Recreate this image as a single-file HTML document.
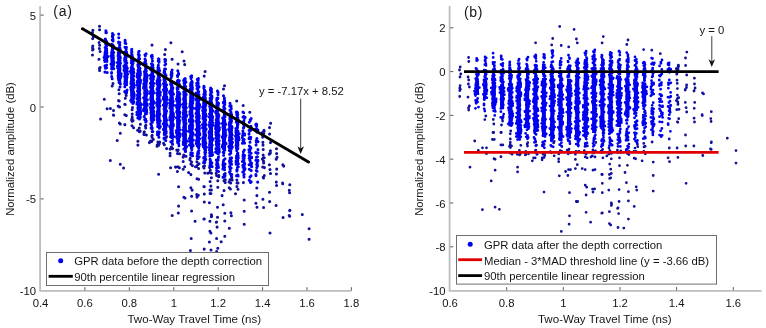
<!DOCTYPE html>
<html><head><meta charset="utf-8"><title>GPR depth correction</title>
<style>html,body{margin:0;padding:0;background:#fff;}body{width:766px;height:328px;overflow:hidden;}svg{display:block;will-change:transform;font-family:"Liberation Sans",sans-serif;}</style>
</head><body>
<svg width="766" height="328" viewBox="0 0 766 328">
<rect width="766" height="328" fill="#fff"/>
<path d="M92.9 30.3h0M92.4 32.6h0M93.4 36.5h0M92.7 38.6h0M92.8 45.9h0M92.6 47.8h0M93.1 49.2h0M92.6 49.9h0M92.5 54.9h0M99.5 26.3h0M99.6 29.7h0M99.1 42.4h0M99.6 45.2h0M99.4 48.5h0M100.1 51.4h0M99 59.3h0M100.1 67.4h0M99.4 68.6h0M99.6 70.4h0M113 83.4h0M112.2 86h0M118.9 89.8h0M119.2 93.8h0M119.2 100.9h0M119.6 107h0M125.9 93.4h0M126.2 95.4h0M125.3 98.2h0M125.2 104.5h0M126.3 115.6h0M132.5 107.6h0M132.1 109.7h0M132.2 114.1h0M132.2 116.9h0M132.2 121.3h0M152 45.1h0M165.4 49.4h0M164.7 54.4h0M172.1 59.3h0M178 63.9h0M184.7 64.6h0M204.2 76.1h0M224.5 85.8h0M223.5 89h0M236.7 101h0M243.2 105.4h0M243.4 182.6h0M249.8 112.3h0M256.8 188h0M256.9 195.6h0M264.4 167.6h0M263.2 155h0M263.2 177.3h0M263.5 161h0M262.4 159.1h0M263.7 162.6h0M264.3 175.4h0M263.6 163h0M262.7 166.9h0M263.8 131h0M263.2 149.5h0M262.7 137.1h0M263.2 157.9h0M263.5 178h0M263 145.1h0M264.1 131.3h0M264 130.3h0M262.6 132.6h0M262.9 142.3h0M263.2 136h0M262.4 132.4h0M262.9 134.1h0M263.7 133.6h0M264.2 157.7h0M263.7 131.9h0M262.9 199.2h0M270.6 123.3h0M269.5 127.6h0M269.6 133.9h0M270.5 142.4h0M270.4 150.8h0M270.4 152.9h0M269.3 154.3h0M269.4 153.8h0M269.4 164.8h0M270 169.6h0M270.5 173.5h0M269.5 192.2h0M269.7 201.6h0M276.5 148.7h0M276.6 153.6h0M277.1 157.2h0M276.2 159.3h0M276.3 159h0M276.7 169.1h0M276.4 173.9h0M276.3 182.1h0M276.6 185.5h0M276.1 205.4h0M282.9 164.8h0M283.7 166.1h0M282.6 182.9h0M282.7 183.7h0M289.8 184.7h0M289.3 190.2h0M289.6 192.8h0M289.9 210.2h0M289.2 215.6h0M302.3 214.4h0M132.1 118.6h0M131.6 120.1h0M133.1 120.5h0M133.6 127.7h0M132 125.7h0M140.4 124.3h0M139.5 131.8h0M137.6 130.2h0M140.2 131h0M139.3 128h0M145.7 128h0M145.9 125.3h0M145.4 126.3h0M146.4 134.9h0M144 132.7h0M152.2 135.3h0M152.1 128.6h0M152.8 131.5h0M152.1 137.2h0M151.8 135.9h0M158.7 134.3h0M157.5 131.9h0M159.3 143.8h0M159.7 141.9h0M157.9 142.1h0M166.6 148.6h0M166.1 137.5h0M166.6 136.6h0M164.4 144.8h0M163.6 143.2h0M172.6 148.5h0M171.3 147h0M171.6 147.4h0M171.3 148.3h0M172.2 148.6h0M177.7 150.7h0M178.2 149.9h0M176.8 149.9h0M177.5 153.4h0M179.6 153.8h0M183.7 155.1h0M185.3 150.9h0M186 156.3h0M183.2 157.1h0M184.3 155.6h0M190.2 158.3h0M192.6 155.7h0M191.1 154.1h0M191.6 162h0M190 160h0M196.5 166.4h0M199.2 156.8h0M196.9 161.8h0M199 163.8h0M197.7 164.7h0M204.5 165.8h0M204 167.7h0M205.7 159.5h0M203.4 166.4h0M204 168h0M211.9 166.5h0M211.5 173.2h0M209.6 167.6h0M210.3 170.3h0M209.5 172.5h0M216.2 173.3h0M217.8 167.7h0M218.8 175.5h0M216.6 175.4h0M218.7 176.8h0M223.5 176.9h0M225.2 173.5h0M225.2 182.4h0M225.3 179.8h0M224.6 179.9h0M231.8 177.6h0M232.2 179.9h0M230 179.8h0M229.1 182h0M230.7 183h0M236.9 179.9h0M237 182.9h0M238 182.9h0M236.9 186.5h0M238 189.3h0M104.3 99.2h0M107.1 108.8h0M110.4 108.5h0M113.5 110.4h0M113.7 115.2h0M118.6 100.6h0M118.2 106.1h0M124.8 104.3h0M124.8 114.7h0M120.2 124h0M124.8 124.6h0M144.3 131.8h0M144.3 134.5h0M150.5 140.9h0M153 139.3h0M157.2 144.9h0M158.7 145.3h0M119.4 123h0M124.9 124.7h0M113.4 115.1h0M120.3 124h0M100.6 119h0M120.3 133.2h0M117.2 140.4h0M137.9 141.2h0M137.9 145.1h0M144 134.5h0M149.4 142.6h0M151.7 141.5h0M153.3 139.4h0M157.1 146.3h0M158.6 145.2h0M158.6 174.3h0M170.1 149.1h0M170.1 153.2h0M170.1 155.7h0M170.6 167.8h0M175.5 167.1h0M177.8 166.8h0M179.4 167.8h0M177.4 171.5h0M178.6 186.7h0M183.2 161.5h0M184.7 166.8h0M183.2 169.2h0M188.6 172.4h0M190.9 174.6h0M183.9 197.2h0M185 197.9h0M190.9 164h0M192.4 165.6h0M195.5 166.7h0M198.6 168.5h0M197 178.7h0M198.6 179.2h0M190.9 187.7h0M192.1 190.1h0M196.7 194.5h0M197 197.1h0M198.3 195.2h0M191.6 196.3h0M203.9 186.4h0M110.3 160.4h0M120.3 164.3h0M123.6 168h0M191.6 210.9h0M178.6 206.1h0M203.9 218.9h0M178.3 212.9h0M195.1 221.3h0M172.2 215.4h0M204.8 172.9h0M207.8 173.2h0M211.4 177.7h0M217.8 180.7h0M224 180.7h0M229.3 187.8h0M230.4 189h0M235.5 193.7h0M244.2 200h0M255.9 203.3h0M257 207.2h0M263.6 207.5h0M283.1 217.5h0M309.1 228.8h0M309.1 239.3h0M210.1 181.4h0M217.8 187.3h0M224 190.6h0M210.9 186.1h0M204.3 186.7h0M209.9 190h0M211.4 190h0M210.9 193.4h0M210.1 193.4h0M222.1 195.6h0M244.2 211.2h0M204.3 194.1h0M223.2 204.8h0M270 233h0M204.3 202h0M209.4 202.8h0M217.5 207.2h0M224.8 213.3h0M230.9 212.8h0M231.4 215.8h0M244.2 224.3h0M211.4 214.7h0M211.7 216.1h0M217.5 217.2h0M224.8 221h0M229.3 228.3h0M216.3 222.2h0M209.9 221.2h0M204.3 219h0M217.1 227.1h0M216.6 222h0M211.4 216.8h0M224.8 236.3h0M209.9 231.2h0M210.9 233h0M216.6 238.5h0M221.2 241.7h0M289.7 210.6h0M289.7 216.3h0M191.2 238.5h0M209.4 242h0M190.4 250.4h0M204.2 249.1h0M211 249.9h0M217.8 248.3h0M216.6 251.5h0M170.9 42.7h0M182.2 51.8h0M184 60.9h0M205.1 71.4h0" stroke="#10109c" stroke-width="3.05" stroke-linecap="round" fill="none"/>
<path d="M106.4 32.6h0M105.9 32.7h0M105.9 30.8h0M106.9 42.4h0M105.3 38.9h0M106.7 42h0M105.6 39.4h0M106 31.7h0M106.2 41.1h0M105.5 50.7h0M106.6 48.8h0M106.8 52.5h0M107 45.6h0M106.8 45.3h0M105.4 48.5h0M106.1 49.3h0M105 53h0M107.2 45h0M105.3 51.7h0M106.2 45.1h0M105.7 44h0M106.6 43.3h0M107.3 44h0M106.8 53.6h0M105.8 51.3h0M106.7 50.7h0M105.1 47.4h0M105.4 59h0M105.8 59.1h0M104.9 61.4h0M106.9 61.1h0M104.4 57.8h0M108 56.6h0M104.8 55.3h0M106.3 56.6h0M104.1 57.3h0M106.1 54.1h0M106.5 55.9h0M104.5 59.9h0M105.7 58.1h0M107.2 72.5h0M105.5 67h0M104.9 72.1h0M105.8 66.2h0M106.6 64.9h0M105.5 68.2h0M106.6 67.7h0M105 65.7h0M105.3 67.5h0M112.2 39.9h0M113.3 34.8h0M112.3 36.5h0M113 39.3h0M113.1 41h0M112.5 35.8h0M112.7 37.1h0M112.9 39.7h0M112.5 33.5h0M111.6 52.3h0M113.1 53.6h0M112.5 49.2h0M113.2 48h0M112.1 49.9h0M112.3 44.7h0M113.1 55.7h0M113.7 52.5h0M112.9 45.1h0M112.4 46.7h0M112.3 46.5h0M113.2 55.5h0M111.7 53.9h0M113.3 48.5h0M111.9 44.6h0M113.4 46h0M112.5 47.2h0M111.7 44.2h0M113.8 62.2h0M111.9 59.3h0M111.1 55.8h0M111.5 57.1h0M112.1 61.7h0M111.8 65.7h0M111 64h0M112.9 61.8h0M112.3 62.7h0M113.8 62.3h0M112.8 57.9h0M113.8 62.9h0M112.3 57.8h0M113.3 57h0M112.1 64.7h0M113.3 64.9h0M112.6 66.6h0M112.2 66.7h0M111.7 76.6h0M111.5 73.3h0M113.8 68.6h0M111.8 67.2h0M112.2 78.7h0M111.6 68.7h0M111.6 72.5h0M112 69h0M118.8 42.4h0M120 48.8h0M119.8 47.8h0M119.9 42.5h0M118.7 43h0M119.8 45h0M118.7 34.1h0M119.6 45.6h0M118.6 41.9h0M118.8 37.7h0M118.8 47.9h0M119.7 53.1h0M119.4 56.4h0M120.1 56.6h0M118.3 58.7h0M120.2 49.4h0M118.9 59h0M119.6 53.4h0M118.3 52.9h0M118.7 51.1h0M118.4 54.7h0M120.3 57.7h0M119.4 53.1h0M119.9 56.4h0M119.2 55.9h0M118.1 56.3h0M120.1 60.1h0M118.5 56.2h0M118.1 55.2h0M118.1 68.2h0M118.2 71.9h0M120.4 62.9h0M119.4 65.9h0M119.5 60.7h0M120.4 78.1h0M117.7 66.5h0M118.4 73.1h0M118.1 65.8h0M119.9 69.2h0M119.8 69.3h0M120.5 76.8h0M121.2 73.8h0M119.4 71.3h0M121.1 75.7h0M120.9 76.5h0M118.9 63.5h0M120.1 76.1h0M118.3 77.8h0M118.9 66.9h0M117.6 67.8h0M119.8 69.1h0M118.1 75.7h0M120.2 74.4h0M117.3 62.5h0M119.9 64.1h0M118.8 79.9h0M119.7 67.3h0M117.4 66h0M119.6 65.8h0M118.6 69.9h0M117.8 67.9h0M118.7 76.7h0M119.5 75.4h0M120 87h0M119.1 82.6h0M119.9 82.5h0M120.4 83.9h0M126.4 47.3h0M125.1 42.9h0M125.1 41h0M126.1 48.6h0M126.2 49.3h0M125.1 40.2h0M125 47.3h0M125.9 43.5h0M125.9 47.8h0M126.5 52.1h0M125.3 55.8h0M124.9 52.1h0M126.1 57.7h0M124.8 54.6h0M126.2 60.7h0M124.9 57.7h0M125.2 54.4h0M126.8 63h0M126.8 53.5h0M126.5 63.5h0M126.9 55.8h0M124.9 61.4h0M125.5 52.6h0M124.6 58.5h0M126.2 63.8h0M125.7 58.4h0M126.3 53.9h0M124.6 60.4h0M125.2 81.4h0M125.1 84.1h0M124.5 68h0M124 70.3h0M125.7 67.6h0M126 76.3h0M123.9 65.9h0M127.4 68.3h0M126.5 67.5h0M126.2 76.5h0M124.8 84h0M125.8 79.5h0M125.4 71.9h0M124.2 67.6h0M126.3 84.6h0M127 68.5h0M126.4 68.5h0M127 77.6h0M127.6 74.2h0M125.6 79.7h0M124.8 66.2h0M125.8 67.1h0M126.7 82.3h0M125.5 77.8h0M127 70.9h0M126.4 79.2h0M126.9 77h0M124.8 76.4h0M125 71.8h0M127.4 71.4h0M126.2 79.9h0M125.7 73.9h0M125.7 66.3h0M125.2 76.6h0M127 90.1h0M124.7 91.4h0M126.5 92.7h0M126.5 91.8h0M124.8 86.8h0M131.9 55.1h0M132 54.2h0M131.6 54.1h0M131.9 51.7h0M131.6 51.8h0M131.7 52h0M131.6 49.8h0M131.8 49.2h0M132.2 60.1h0M132.6 64.2h0M133.1 62.9h0M131.5 60.6h0M132 64.1h0M132.1 67.1h0M132 56.2h0M132.3 67.5h0M132 65.7h0M131.3 62.8h0M131.4 58.1h0M131.9 60.7h0M132.7 63h0M131.8 58.8h0M131.4 56h0M133.3 61.3h0M132.1 58.3h0M132.5 56.5h0M131.6 82.4h0M131.4 81.2h0M131.1 81.6h0M134.1 94.1h0M131.8 99.7h0M133.4 69.1h0M132.5 84.4h0M133.6 91.9h0M132.1 86.1h0M130.5 71.6h0M130.9 73h0M132.6 101.3h0M131.6 68.5h0M133.7 83.3h0M132.5 82.7h0M131.6 76.9h0M133.5 71.5h0M133.2 85.8h0M130.7 87.2h0M131.6 77.1h0M131.7 95.2h0M133.5 102.7h0M132.4 92.4h0M131.7 92h0M133.8 72.5h0M134.2 85.3h0M132.6 94h0M133.1 83.5h0M131.7 76.2h0M133.6 80h0M130.7 100.5h0M131.7 68.5h0M132.1 91.9h0M134.2 95.9h0M133 91.9h0M132.7 73.3h0M131.1 89.4h0M133 69.3h0M132.9 103.4h0M133.8 76h0M131.7 78.8h0M133.5 97.4h0M133.9 101.7h0M131.2 67.4h0M131.2 87.9h0M133.3 98.6h0M134.1 95.7h0M134.2 94h0M130.9 83.6h0M134.1 87.3h0M131.6 89.2h0M130.9 70.6h0M133.2 72.8h0M132.1 79.4h0M131.6 102h0M139.1 51.2h0M138.3 54.4h0M139.6 58.7h0M138.6 52.2h0M138.9 56.6h0M139.3 55.1h0M138.3 67h0M139.6 64.6h0M139.7 69.3h0M139.2 68.1h0M138.6 58.6h0M138.3 66.4h0M139.1 59.3h0M140 68.2h0M138.8 66.9h0M139.3 59.1h0M138.9 69h0M137.9 64.5h0M139.1 62.4h0M138.5 67.7h0M139.1 68.4h0M138.2 64.6h0M138 66.1h0M139.8 63.9h0M140.7 111.3h0M140.5 80.1h0M137.5 91.1h0M140.7 112.7h0M138.3 114.8h0M140.6 81.6h0M140.6 104.1h0M140.8 105h0M140.2 104.7h0M138.6 112.6h0M138.5 112.5h0M139 114.7h0M136.9 98.6h0M138 85.3h0M138.1 70.3h0M137.3 81.2h0M140.3 82.9h0M139.7 80.6h0M136.9 114.8h0M137.4 102.2h0M138.1 78.3h0M140.4 113.5h0M140 75.1h0M138.3 73.8h0M140.4 117.3h0M139.1 75.4h0M139.6 90h0M139.1 110h0M140.5 114.2h0M137.1 76.7h0M138.9 79.4h0M140.3 103.1h0M139.5 104.3h0M139.5 98.3h0M139.5 89.1h0M140.3 109.7h0M139.6 103.8h0M138.2 73.1h0M138.1 90.8h0M138.4 79.1h0M137.9 108.1h0M136.9 112.2h0M139.8 90.2h0M136.9 103.9h0M137.2 74.5h0M137.3 95.3h0M138 88h0M138.4 74.6h0M139.2 90.5h0M137.1 85.1h0M139.6 85.9h0M139 70.4h0M140.3 72h0M139 79.4h0M139.1 74.5h0M140.5 107.8h0M140.4 107.6h0M140.1 71.3h0M140.4 73.4h0M139.7 116.7h0M139.8 98.8h0M140.3 75.1h0M137.8 73.6h0M139.6 83.1h0M138.4 88.1h0M139.9 94h0M140.3 109.8h0M137.1 82.2h0M137.3 73.7h0M137.2 103.6h0M136.9 104h0M137.9 101.3h0M139.5 118.9h0M137.8 117.9h0M138.6 116.3h0M145.4 59.9h0M145.4 54.5h0M145 58.9h0M146.1 53.7h0M145.3 55.8h0M145 54.7h0M146.1 71.2h0M146 64h0M145.2 71.4h0M144.5 71.6h0M146.3 71h0M144.9 63.3h0M144.6 63.4h0M145.9 70.5h0M145.8 70.1h0M144.5 63.2h0M146.1 64.1h0M145.5 61h0M144.9 64.2h0M145.6 64.7h0M144.6 62.2h0M146 71h0M144.8 64.6h0M146.4 68.1h0M145.2 104h0M144.9 97.7h0M145.5 101h0M146.1 73.9h0M145.4 107.5h0M144.6 78.4h0M146.8 81h0M144.6 101.6h0M143.9 83.7h0M147.3 91.3h0M147.2 104h0M147.1 76.4h0M146.7 109.9h0M146.9 78.5h0M146.4 112.4h0M144.8 92.8h0M145.8 108h0M143.8 84.4h0M146.2 73.6h0M144 83.5h0M145.3 84.7h0M145.3 106.5h0M146.7 78.4h0M145.6 99.7h0M145 108.4h0M143.6 87h0M145.9 100.7h0M143.5 109.4h0M145.2 88.9h0M143.6 88.1h0M143.6 104.2h0M144.7 97.8h0M146.8 90.3h0M145.5 80.7h0M145.9 83.4h0M146.1 94.7h0M146 76.6h0M143.7 98.1h0M146.8 112.3h0M146.6 105.1h0M147.1 93.6h0M146.4 79.2h0M143.7 110.7h0M147.3 99.7h0M145.7 78.3h0M144.5 108h0M146.3 81.4h0M147.2 105.5h0M143.6 97.7h0M144.6 105h0M146.3 95.7h0M145.6 112h0M145.5 78.3h0M146.4 95.4h0M145.6 80.2h0M147.4 75.6h0M145.6 73.4h0M144.5 78.9h0M144.4 88h0M144.7 82.5h0M147.3 93.6h0M144.1 80.1h0M146.5 113.8h0M146.3 121.1h0M145.3 114.1h0M145.5 119.5h0M144.7 119.6h0M145.7 121.9h0M145.6 119h0M144.2 116.4h0M152 56h0M152.1 55.3h0M152.3 56.4h0M152.2 58.4h0M151.4 56.6h0M152.5 60.9h0M151.3 56h0M152.6 74.3h0M152.7 73.1h0M153 69.3h0M152.6 73.6h0M152.9 75.3h0M150.9 69.7h0M152 70.7h0M151.5 63.7h0M152.3 73.5h0M152.6 75h0M152.5 66.2h0M152.8 64.8h0M153.1 67.8h0M152.6 64.6h0M152.8 65.4h0M152 73.3h0M151.3 70h0M151.2 67.5h0M150.5 92.4h0M152 104.2h0M151.4 91.2h0M153.8 119.7h0M151.4 119.5h0M150.6 78.4h0M151.4 114.1h0M153.8 83.2h0M152.2 85.7h0M150.5 93.4h0M153.1 93h0M153.4 100.9h0M150.4 75.3h0M152.5 95.4h0M151.1 93.6h0M153.4 113.2h0M150.5 104h0M152.4 109.3h0M152.9 109.3h0M151.5 100.7h0M153.7 114.4h0M151.2 118.1h0M150.8 84.3h0M153.8 107.4h0M151.8 86.2h0M151.6 100h0M151.5 100h0M153.9 103.2h0M153.8 111.2h0M150.6 93.7h0M150.9 84h0M150.9 109.7h0M153.7 101.9h0M150.9 93.9h0M153.9 116.8h0M153.3 79.3h0M151.2 119.1h0M150.7 91h0M153.1 85.9h0M151.2 95h0M153.6 93h0M151.3 120.2h0M151.1 87h0M153.6 112h0M150.4 83.3h0M153.3 91.3h0M153.8 114.9h0M150.2 93.4h0M153.2 78.3h0M150.7 91.7h0M150.4 87.3h0M151.7 116.8h0M150.8 97.6h0M151 98.6h0M153.4 118.9h0M152.2 108.2h0M150.3 107.6h0M153.5 92.8h0M151.2 110.9h0M150.5 92h0M153.8 76.6h0M153.2 84.6h0M151.8 83.5h0M150.7 99.4h0M150.5 87.4h0M151.5 75.3h0M150.9 112.9h0M151.6 94.8h0M150.8 98.1h0M151.3 77.2h0M152.2 131.6h0M151.5 125.4h0M151.1 128.1h0M152 127.5h0M152 121.5h0M150.8 123.8h0M151.2 125.3h0M152.4 122.2h0M158.9 60.3h0M158.3 65.3h0M159.1 62h0M158.5 58.7h0M158.3 61h0M159 62.2h0M158.4 65.3h0M159 59.2h0M158 74.7h0M157.9 71.6h0M157.8 72.5h0M158 67.3h0M158.1 67.5h0M158.1 70.4h0M159.2 78.1h0M159.5 70.4h0M157.4 71.8h0M157.6 71.7h0M159.6 70.6h0M159.7 73.7h0M158.1 71.7h0M157.9 69.1h0M158.7 76h0M158.5 76.9h0M159.5 77.6h0M158.9 67.9h0M157.9 81.8h0M159.1 85h0M156.9 83.6h0M159.2 114.8h0M160.2 120.7h0M159.8 114h0M158.4 92.5h0M158.1 104.8h0M158.5 101h0M156.7 102.6h0M159.6 86.4h0M157.4 120h0M157.5 83.4h0M158.3 121.2h0M158.5 126.2h0M159.6 84.8h0M159.3 84.8h0M159.5 127.6h0M158.2 118h0M157.4 80.9h0M159.7 121h0M157.3 105.8h0M159.8 102.5h0M160.1 84.8h0M159.4 82.9h0M160 80.3h0M158.7 94h0M159.2 81.1h0M157.7 126.6h0M157.1 118.5h0M159.2 80.7h0M159.4 92.2h0M157.1 80.8h0M158.6 94h0M157 89.3h0M158 83.6h0M158.7 81.7h0M158.6 80h0M156.7 92.9h0M158.9 79.8h0M157.3 112.4h0M156.9 105.3h0M159.8 101.9h0M158.4 87.6h0M157.6 121.9h0M156.8 115.6h0M159.6 92.5h0M157.7 120.3h0M157.9 98.1h0M157.9 87.5h0M158.8 119.5h0M158.8 119.8h0M158.8 111.6h0M158.5 88.8h0M157.5 94.6h0M160.2 94.9h0M160.4 126.5h0M157.6 104.5h0M157.7 95.8h0M160 126.2h0M158.6 116.9h0M159.5 102.7h0M159.4 122.4h0M158.9 124.9h0M159 119.6h0M159.8 106h0M159.9 101.1h0M160.4 92.2h0M157.3 113.4h0M157.7 111.3h0M157.1 82.4h0M160.3 100.7h0M158.7 90.2h0M157.2 99.1h0M157.8 111.9h0M159.4 128.2h0M157.4 134.8h0M158.1 131.9h0M158.1 134.1h0M157.4 134.2h0M158.9 137.3h0M159.3 132h0M158.1 135h0M165.3 59.4h0M165.7 64h0M165.6 60.4h0M164.6 68.9h0M165.3 61.5h0M165.1 61.8h0M164.9 65h0M164.8 59.5h0M165.6 69h0M165.4 59.6h0M165.3 81.7h0M165.3 82.7h0M164.9 76.6h0M165.5 78.3h0M164.3 82.4h0M166 75.6h0M164.6 79h0M164.1 77.3h0M164 72.4h0M164.2 80.7h0M164.7 75.4h0M164.1 78.8h0M164.3 70.9h0M164.7 77.7h0M164.6 71.8h0M165.6 74.7h0M164 79h0M164.2 80.5h0M164.8 103.4h0M163.5 83.6h0M165.8 121.6h0M167 124.7h0M164.3 128.2h0M165.7 117.2h0M166.1 95.3h0M165.5 130h0M164.2 122.7h0M164.4 126.1h0M165.3 98.8h0M165 114.4h0M166.1 126.4h0M166.6 110.9h0M164.6 103.4h0M164.3 133h0M166.5 90.7h0M164.4 118h0M165.8 125h0M165.2 106.4h0M165.3 132h0M164.8 88.2h0M166.9 99.7h0M164.7 105.3h0M166.2 123h0M165.8 87.5h0M165.4 131.2h0M166.8 98.3h0M165 86.3h0M165.3 93.3h0M166.6 104.5h0M164.9 86.7h0M163.5 96.9h0M165.7 126.8h0M165.2 101.2h0M163.3 105h0M163.2 98.9h0M166.5 88.9h0M164.3 122.7h0M166.6 84.8h0M164.1 85.9h0M165.4 126.8h0M166.2 106.2h0M165.4 130.4h0M163.4 129.4h0M165.8 110.2h0M165 126.5h0M164.2 114.9h0M165.4 120.7h0M165.2 134h0M166.3 93.6h0M163.6 105.3h0M165.1 132.5h0M163.9 90.9h0M166.8 97.1h0M163.2 123.7h0M164.4 118.6h0M166.1 106.1h0M164.3 97.6h0M166.2 131.6h0M166.1 126.3h0M166.1 133h0M164.3 120.9h0M166.8 120.3h0M166 112.9h0M165 91.9h0M166 110.8h0M164 109.1h0M165 133.7h0M166.5 89.9h0M166.9 102.9h0M166.1 85.2h0M166 118.5h0M165.1 84.9h0M164.3 108.5h0M165.5 87.8h0M167 103h0M164.7 94.8h0M163.6 116h0M163.4 89.7h0M165.8 140.6h0M164.5 134.9h0M164 138.2h0M164.3 134.4h0M164.5 139.3h0M171.9 75.4h0M171.1 75h0M171.3 73.4h0M171.4 72.1h0M171.2 77.6h0M172.1 73.2h0M172.1 70.1h0M171.9 89.5h0M171.5 89.6h0M172.8 88.6h0M171.5 84.5h0M172.1 90.2h0M171.4 84.5h0M172.8 87.8h0M171.6 84.6h0M170.6 84.1h0M172.2 88.7h0M172.1 86.4h0M171.5 88.2h0M171 85.1h0M172 85.5h0M170.9 84.9h0M170.6 81.4h0M171.8 83.8h0M172 83.1h0M171.5 109.4h0M171.8 100.6h0M170.5 100.6h0M172.2 112.1h0M170.6 115.3h0M172.5 119.2h0M170.1 100.1h0M171 133.1h0M171.6 118.3h0M170.9 115.4h0M172.4 98.5h0M173.4 125.2h0M173 116h0M173.6 116.6h0M170.8 98.3h0M171.3 128.4h0M173.2 119.3h0M169.9 100h0M172.1 91.6h0M170.6 136.7h0M171.4 115.4h0M172.9 115.7h0M172 134.6h0M173.3 114.9h0M170.9 112h0M172.3 114.6h0M172.6 102.7h0M169.9 108h0M173.2 126h0M173.6 136.7h0M173.5 94h0M173.2 136h0M172.3 91.3h0M173.2 101.2h0M169.9 103.1h0M172.4 120h0M171.3 116.7h0M172.5 94.4h0M172 91.1h0M171.5 95.2h0M170.6 118.7h0M170.7 127.3h0M171.2 133.1h0M171.4 124.4h0M170 105.4h0M169.9 119.7h0M171.3 113.5h0M170.6 104.4h0M173.2 115.5h0M170.9 129.4h0M172.2 120.3h0M172.1 126.6h0M170.2 92.8h0M170.7 129h0M169.9 117.6h0M170.8 118.8h0M169.7 91.4h0M171.7 102.4h0M169.8 126.6h0M171 115.2h0M172.4 121h0M170.6 94.1h0M172.3 133.9h0M171.8 98.9h0M170.3 107.7h0M171.8 110.7h0M173.2 123.9h0M173.6 105.2h0M172.2 109.1h0M171.4 110h0M172.6 125.1h0M169.7 92.7h0M170.9 107.3h0M173.4 113.6h0M170.6 104.8h0M171 111.4h0M171.7 110.9h0M172.3 141h0M172.3 143.6h0M170.8 141.8h0M172.6 144.3h0M177.6 76.4h0M178.5 73.3h0M177.9 70.9h0M178.7 74.2h0M177.8 70.7h0M177.4 75.6h0M178.8 83h0M178.8 84.8h0M178.7 82.2h0M178.5 81.1h0M177.2 87.7h0M177.8 82.1h0M177.2 88.8h0M179.4 84.6h0M179.3 80.7h0M178.3 79.9h0M178.6 84.6h0M178.1 82.3h0M177.4 88.7h0M177.2 89h0M177.5 80.7h0M177.8 85.1h0M177.2 83.9h0M177 81.9h0M178.8 97.2h0M178 118.4h0M179.2 92.7h0M179 96.1h0M179.7 111.9h0M177.6 95.3h0M179.9 93.9h0M177.6 121h0M179.8 99.7h0M176.7 107.6h0M177.7 113.8h0M176.4 130.5h0M179.8 129.8h0M178.9 94.2h0M179.2 127.5h0M178.1 133.9h0M178.5 123.2h0M176.7 111.9h0M178.3 117.9h0M179.1 108.5h0M178.2 134.9h0M178.2 109.6h0M177.4 127h0M178.8 132.2h0M178.6 126h0M178.8 94.5h0M178.9 134.3h0M176.8 131.8h0M179.1 113.9h0M176.5 136.9h0M177.2 100.4h0M178.8 103.8h0M179.9 112.2h0M179 124.8h0M179.6 136.7h0M177.9 92h0M179.1 123.7h0M177 135.1h0M179.8 116.4h0M176.4 99h0M176.9 111.1h0M177.8 92.2h0M178.8 122.7h0M177.3 132.9h0M179.8 105.5h0M178.6 93.8h0M179.2 98.2h0M179.5 97.4h0M179.9 106.3h0M179.3 122.8h0M178.9 101.3h0M177.8 123.2h0M178.3 118.5h0M180.2 133.8h0M178.2 131.6h0M178.7 96.1h0M177.1 138.5h0M177 96.8h0M178.2 95.3h0M179.7 101.7h0M179.7 136h0M178 117.2h0M177.8 123.7h0M176.4 117.8h0M178.4 118.3h0M176.9 100.8h0M179.8 113.5h0M179 140.7h0M177.5 106.7h0M177.3 136.3h0M179.1 121.1h0M179.9 105.8h0M180.2 104.4h0M178.3 126h0M179.8 120.4h0M176.4 132.4h0M176.2 105.5h0M178.7 143.7h0M178.4 143.3h0M177.5 141.2h0M177.6 142.4h0M178.9 145.7h0M184.5 79.7h0M185.1 80h0M185.2 78.4h0M184.3 79.3h0M184.4 91h0M185.9 82.1h0M185.1 92.5h0M183.6 80.5h0M185.2 90.1h0M185.8 91.2h0M185.5 88.5h0M184.5 84.8h0M184.3 87.6h0M185.7 88.9h0M185.7 86.5h0M184.2 89.3h0M184.3 81.2h0M184.9 87.8h0M185.2 82.8h0M184.5 84.2h0M185.2 82.3h0M184.1 83.2h0M184.1 140.9h0M183 135.4h0M185.3 120.2h0M184.6 130.7h0M184.9 101.9h0M183.9 140.1h0M185.4 115h0M185.3 111.9h0M183.4 114.4h0M183 117.4h0M184.5 96.6h0M186 111.7h0M184.1 95h0M185 125.4h0M185.1 126.4h0M183.6 144.4h0M183.1 119h0M184.9 134.2h0M183.2 144.2h0M183.8 121.2h0M186.5 116.3h0M183.3 104.1h0M183.8 113.9h0M185.6 134.9h0M186.1 107.6h0M183 104.2h0M185.1 101.9h0M185.6 135.1h0M184.3 100.9h0M185.3 137.4h0M183.4 133.4h0M183.4 135.4h0M184.7 94h0M185.3 128h0M183.5 118.2h0M184.6 123.3h0M183.8 91.9h0M185.7 113.9h0M186.7 146.6h0M184.2 123h0M186 139.9h0M183.8 144.2h0M185.1 147.1h0M183.7 126.9h0M183.3 141.9h0M186.5 131.1h0M183.6 135.5h0M186.1 146.7h0M186 147.4h0M183.6 143.5h0M183.7 103.4h0M183.5 117.6h0M186.1 142.5h0M183.8 110.5h0M183.6 99.1h0M184 106.9h0M183 129.7h0M186 123.6h0M185.3 105.9h0M186.3 107.7h0M184.2 119.4h0M184.8 142.8h0M183.5 112.6h0M184 97.9h0M186.2 94.6h0M186.1 142.2h0M184.2 118.4h0M183.3 107.2h0M184 107.7h0M183.5 119.1h0M184.7 121h0M185.1 100.3h0M185.8 142.4h0M183.7 121.4h0M183.7 130.9h0M183.9 138.2h0M185.9 103.6h0M183.9 103.4h0M184.3 130.1h0M186.4 114.9h0M186.7 140.9h0M184.3 122.6h0M184.4 124.4h0M183.8 144.5h0M185.5 151.5h0M185.5 148.8h0M185.5 150.9h0M183.9 149h0M191.9 81.3h0M191.5 77.3h0M191.7 75.7h0M191.1 78.6h0M190.7 76.5h0M191.1 83.9h0M190.5 85.7h0M190.2 88.7h0M190.8 83h0M192 83.7h0M191.2 92.3h0M192.1 85.6h0M191.7 90.3h0M190.3 91.4h0M190.8 87.8h0M190.3 91.9h0M192.3 92.2h0M192.2 82.4h0M192.2 87.7h0M192.4 87.4h0M190.6 84.5h0M192.4 89.3h0M191.7 84.4h0M190.8 107.3h0M192.4 127.6h0M193 121.4h0M189.4 128.1h0M189.4 125.9h0M191.4 106.4h0M192 116h0M192.5 116.3h0M191.7 123.8h0M191.3 127h0M189.3 121.3h0M190.6 100.7h0M190.1 104.8h0M191.1 131.1h0M191.9 102.2h0M190.5 102.2h0M192 104.5h0M189.4 119.7h0M190 131.3h0M189.7 106.5h0M191.5 126.1h0M193.3 108h0M189.8 114.2h0M191.4 137.3h0M191.7 119h0M191 119h0M192.5 96.1h0M192.2 123.9h0M191.2 96.1h0M191.4 112h0M190.3 130.8h0M192.1 134.1h0M192.7 97.7h0M190.4 127h0M189.5 141.3h0M192.7 125.6h0M193 134.1h0M193 120.8h0M192.6 96.3h0M191.9 103.9h0M191.3 147.9h0M192 140.2h0M189.3 138.6h0M191.9 120.2h0M193.1 134.1h0M191.4 103h0M190.9 127.1h0M191.3 143.8h0M191.9 97.4h0M192.1 134.7h0M191.2 120h0M192.1 140.7h0M192.6 132.7h0M192.1 99.1h0M192.2 140.9h0M190.9 145h0M192.4 135.4h0M191.4 134.3h0M193 120.6h0M190.6 104.6h0M192.7 103.1h0M190.7 138.9h0M192.5 115.8h0M191 128.2h0M191.4 145.7h0M190.8 97.8h0M189.9 111.7h0M191.5 127.7h0M192.9 132.9h0M190.4 104.2h0M192.3 128.8h0M189.5 130.1h0M190.3 136h0M193.2 98.1h0M193.1 100.3h0M190.1 104h0M192.2 144.1h0M189.5 144.9h0M191 130.6h0M191 108.1h0M191.2 137.3h0M193.1 145.6h0M189.8 125.5h0M191.5 100.3h0M193.3 140h0M189.3 131.5h0M191.5 155.3h0M191.8 149.6h0M190.7 155.1h0M191.6 152.9h0M190.9 152.7h0M192.4 153.1h0M197.3 79.5h0M198.2 80.1h0M198.4 78.6h0M197.4 79.3h0M196.9 83.3h0M198.6 91.7h0M199 86.8h0M196.7 83.2h0M198.5 91.4h0M197.4 83.2h0M198 82.3h0M198.2 87.7h0M198.7 91.7h0M197.7 85.2h0M198.1 83.2h0M198.3 86.1h0M197.5 84.7h0M197 88.4h0M198 84.2h0M197 88.6h0M197.7 86.1h0M196.8 85.5h0M198.7 131.8h0M198 106.9h0M198.8 139.8h0M197.1 93.1h0M199.3 106.3h0M198.9 132.7h0M198.8 94.4h0M196.6 100.2h0M198.3 119.2h0M199.3 108.1h0M199.7 134.9h0M197.7 101h0M197.4 113.3h0M199.5 99.6h0M196.1 98.9h0M199 94.7h0M197.2 141.1h0M197 103.2h0M198.3 117.4h0M198.8 108.5h0M199.6 135.1h0M198.8 146.1h0M199 146.2h0M196 113.5h0M199.6 106.1h0M199.1 130.7h0M199 96.9h0M197 108.2h0M199.2 118.2h0M199.8 133.7h0M197.6 93.2h0M197.7 127.5h0M199.4 115.7h0M196.5 120.6h0M197.4 114.4h0M196.3 108h0M198.7 140.3h0M198.6 147.8h0M199.5 121.9h0M199.4 128.3h0M197.8 142.6h0M197.2 104.5h0M197.5 142.1h0M196.7 114.4h0M195.9 134.9h0M196.5 140.6h0M197 104.5h0M198.2 117.1h0M197.8 134.8h0M196 129.6h0M198.2 127.6h0M199.7 98.3h0M197.8 126.3h0M197.9 104.8h0M198.6 140.9h0M197.1 97.4h0M196.3 143.5h0M199.3 128.9h0M198.4 131.4h0M197 94.6h0M196.9 105.7h0M197.1 129.6h0M196.1 92.9h0M197.6 115.9h0M197.1 123.7h0M199.6 138.7h0M199.6 144.2h0M197.7 114h0M196.5 141.1h0M199.1 144h0M195.9 109h0M196.6 121.8h0M197.4 103.2h0M198.8 116.3h0M199.1 132.6h0M197.5 136.2h0M197.4 112.2h0M197.8 122.3h0M199.5 125.8h0M198.1 113.1h0M198.1 103.9h0M198.6 126h0M196.4 117.3h0M197 112.1h0M199.6 104.5h0M199.6 133.3h0M197.3 158.8h0M197.8 152.2h0M197.7 153.2h0M198.9 150.4h0M198.1 158.4h0M198.1 153.1h0M197.6 154.6h0M197.2 156.4h0M198.7 153.3h0M197.1 156.2h0M197.9 152.5h0M198.5 151h0M204.2 87h0M203.9 86.2h0M204.6 90.3h0M205.2 94.8h0M205 97.7h0M203.8 94.4h0M205.3 93.7h0M205 97.5h0M205.2 98.8h0M205.4 91.5h0M204.6 99.5h0M205.2 95.2h0M205.4 98h0M205.3 94h0M204.3 93.1h0M204.6 93.9h0M203.8 87.9h0M203.3 97.3h0M205.4 99h0M205.3 94h0M203.9 144.3h0M203.2 137.5h0M203.1 118.6h0M206.3 116.1h0M203.7 131h0M205.8 105.3h0M206.4 147.2h0M205.6 102.9h0M203.2 114.1h0M203.6 123.7h0M203 145.1h0M203.1 117h0M204.4 135.3h0M206 124.8h0M204.5 129.1h0M204.8 142.7h0M205 144.8h0M204.5 135.8h0M204.8 105.6h0M205.4 143.9h0M203.4 146.7h0M203.1 141.7h0M202.6 99.3h0M203.3 109.3h0M204.5 138.7h0M203.9 142.8h0M203.6 106.6h0M205.5 109.9h0M204.6 146.4h0M204.7 127.3h0M205.7 135.2h0M204.2 140.6h0M204.3 124.6h0M202.7 106.8h0M204.2 140.4h0M202.6 107.2h0M204.1 100.7h0M206.1 129.1h0M204 137.2h0M202.5 127.7h0M204.2 107.6h0M205.1 129.5h0M203.9 145.1h0M203 118.4h0M203.2 112.9h0M204.9 140.9h0M202.7 137.8h0M205 123.8h0M204.5 110.8h0M205 102.1h0M205 129.9h0M204.6 101.8h0M203.3 117.1h0M204.5 148.8h0M204.4 134.8h0M203.1 143.2h0M205.2 124.3h0M203 107.4h0M204.6 124.1h0M205 143.4h0M203.7 111h0M203.1 140.3h0M203.7 114.8h0M205.3 130.1h0M204.2 107.2h0M205 142.8h0M205.8 143.3h0M203.5 125.3h0M204.5 115.5h0M203.5 144.1h0M203.4 138.2h0M202.6 110.5h0M205.6 120h0M204.9 120.7h0M203.7 103.6h0M202.5 124.5h0M205.7 114.3h0M205.1 151.3h0M203.7 158.1h0M204.8 152.2h0M204 157.2h0M204.5 161h0M204 162.4h0M205.2 156.2h0M205.1 154.2h0M204.8 160.8h0M205.3 158.5h0M205.6 152.6h0M204 161.5h0M205.7 150.2h0M204.8 162.4h0M203.6 162.8h0M210.4 90.1h0M211.5 89.1h0M210.8 91.3h0M211.3 90.7h0M210.8 92.7h0M210.7 88h0M210.5 89.4h0M211.7 92.3h0M209.9 101.3h0M212 97.4h0M210.7 106.4h0M210.4 100.1h0M211.9 103.7h0M211.5 102.3h0M211.8 95.8h0M209.9 101h0M211.5 99.4h0M211.7 98h0M211.3 102.5h0M211.9 106.2h0M210.1 98.3h0M211.6 103.6h0M210.8 98.2h0M210.2 104.7h0M212 96.9h0M210.3 94.8h0M210.8 107.8h0M209.9 139.6h0M211 113h0M211.2 117.3h0M210 126.9h0M210 145.6h0M209.1 132.7h0M209.7 148h0M212.9 139.8h0M211.7 118h0M212.7 111.3h0M211.8 139.2h0M210.5 108.6h0M210 134.9h0M211.2 143.3h0M212.4 117.9h0M210 137.3h0M211.6 124.1h0M210.7 137.5h0M209.2 137.9h0M209.4 116.9h0M211.9 140.4h0M211.5 141.1h0M211 123.1h0M209.5 126.5h0M209.5 145h0M211.9 121h0M209.4 147.4h0M209.9 143.2h0M209.4 149.9h0M210.1 154h0M212.3 119.9h0M209.6 122.2h0M212.7 122.5h0M210.9 133.4h0M209.4 133h0M211.8 134.6h0M209.7 106.2h0M210.9 151.5h0M211.4 119.8h0M209.2 124.8h0M210.4 152.4h0M210.4 128.9h0M210.4 145.4h0M210.8 122.9h0M212.6 154.7h0M212.7 110.5h0M209.5 134.8h0M211.7 123.1h0M212.1 152.5h0M210.9 123.3h0M211.3 144.2h0M209.2 131.6h0M209.5 114.1h0M211.7 118.1h0M210.9 133.2h0M209.6 132.8h0M211.4 115.2h0M209.7 152.9h0M209.8 131.8h0M212.9 110.9h0M212.2 145.1h0M209.2 137.3h0M212.9 125.2h0M211.8 130.4h0M211.8 153.5h0M212.6 116.6h0M209.9 141.8h0M210.3 108.5h0M210 126.8h0M210.8 125.1h0M212.5 118.1h0M212.8 138.8h0M209.7 135.9h0M210.4 155.6h0M211.9 162.9h0M212 166.6h0M211 165.2h0M210.1 159.3h0M211.7 155.5h0M210.4 162.8h0M209.8 155.9h0M210.3 160.7h0M209.9 165.8h0M210.9 161.4h0M210.2 163.5h0M210.3 162.5h0M210.3 159.9h0M217.5 98.5h0M217.5 90.9h0M216.9 98.3h0M217.8 98.8h0M217.9 98h0M217.4 91h0M217.8 98.7h0M217.7 97.9h0M218 94.6h0M218.1 92.4h0M217.5 109.8h0M218 107.4h0M216.7 99.9h0M217 109.2h0M218.2 105.3h0M216.5 107.5h0M216.9 104.4h0M217.3 105.2h0M218.2 104.8h0M217.8 105.9h0M217.1 102.3h0M217.8 105.7h0M218.2 105.5h0M216.9 104h0M217.5 103.6h0M218.1 110.4h0M218.6 103.3h0M217.9 110.7h0M219 135.2h0M218 141.5h0M217.6 113.8h0M217.2 148.5h0M217 152.6h0M218.7 131.1h0M216.3 130.1h0M215.9 138h0M218 116.8h0M216 134.3h0M215.6 128.7h0M218.9 150h0M216.9 115.1h0M218.1 123h0M217.8 134.3h0M217.8 149.6h0M218.4 137.4h0M218.5 122.6h0M218 152.6h0M216.8 151.2h0M217.8 125.8h0M217.6 114.4h0M217.9 116.6h0M215.6 152h0M215.6 125.4h0M216.9 126.5h0M216.1 111.2h0M217.5 138.9h0M216.9 141.5h0M218.1 143.3h0M216.7 145.1h0M215.8 132.2h0M217.5 125.8h0M219.2 149h0M216.6 143.5h0M218.5 130h0M219.3 151.9h0M216.9 127.7h0M217.5 144.4h0M217.3 148.3h0M217.1 118.1h0M218.4 136.3h0M219.4 129.4h0M217.1 117.9h0M216.2 119.9h0M219.2 150.4h0M217.8 153.6h0M215.7 112.6h0M219.3 123.4h0M219.3 127.4h0M215.7 127.3h0M218.4 146.6h0M217.7 137.4h0M216.2 141.6h0M217.1 126.6h0M218 117.5h0M216.1 135.1h0M215.9 148.7h0M216.3 127.6h0M216.3 144.4h0M218.8 115.5h0M218.5 128.4h0M219 143.9h0M218.7 127.7h0M218.8 135.3h0M216 123h0M219.2 140.7h0M217.8 125.4h0M216.5 164.6h0M218.2 166.3h0M216.3 159.9h0M217.3 161.1h0M216.7 165.1h0M218.5 156.9h0M217.3 164.7h0M216.5 168h0M218.4 167.5h0M217.3 162h0M216.7 170.5h0M217.5 166.2h0M217.9 164.1h0M217.9 165.5h0M218.2 160.1h0M216.9 162.6h0M218.2 158.6h0M218.5 171.5h0M224.8 104.5h0M224.1 106h0M223.4 103h0M223.5 95.7h0M224.8 102.7h0M224.7 101.1h0M224.4 98h0M223.5 102.1h0M224.4 99.2h0M224.4 101.5h0M224.6 101.3h0M224.3 113.3h0M224.9 116.5h0M225.2 114.5h0M224.9 114.3h0M224.8 112.9h0M223.9 110.4h0M225 114.8h0M225 116.8h0M225.1 114.4h0M223.3 117.4h0M223.7 109.3h0M224.8 112.3h0M224.4 116.8h0M223.8 106.8h0M224.9 114.9h0M224.9 108.5h0M224.8 116.1h0M225.2 114.6h0M223.8 142.1h0M224.2 150.5h0M224.3 150.2h0M224.9 144.1h0M222.6 117.9h0M222.3 146.2h0M224.3 132.5h0M223 145.7h0M225.5 129.9h0M225 132.8h0M224.9 123.2h0M225.9 135.2h0M223.6 131.7h0M222.9 127.5h0M222.7 138h0M224.1 128.5h0M222.9 145.5h0M225.8 124.2h0M223.6 141.3h0M223.3 120.2h0M222.4 123.2h0M223.6 128.5h0M226 143.2h0M223 126.1h0M222.8 124.3h0M224.3 141.9h0M223.8 123.4h0M224 130.9h0M225.4 143.7h0M224.1 145h0M226 143.8h0M224.2 149.3h0M222.7 145.1h0M224 134.2h0M224.4 133.3h0M223.4 148.5h0M225.4 132.2h0M224.3 135.1h0M222.1 146.7h0M225.3 133.3h0M223.4 134.8h0M224.8 121.9h0M222.6 137.3h0M224.2 118.1h0M225.2 137h0M222.2 136.7h0M223.4 140.7h0M224.7 141.7h0M223.2 144h0M223.8 132.2h0M223.4 132.9h0M223.4 152.3h0M223.4 161.8h0M223.7 166h0M223.3 167.8h0M224.3 166.6h0M224.7 176.6h0M224.1 174.6h0M222.9 165.1h0M223.9 164.2h0M223.9 152.7h0M224 164h0M223 177.2h0M223.6 164.9h0M223.9 159.9h0M225 175.7h0M223.6 155.2h0M224.6 167.4h0M223.5 166.8h0M224 169.2h0M225.1 164.1h0M225 158.8h0M224.5 169.7h0M223.6 160.2h0M224.2 169.6h0M223.2 152.3h0M222.9 169h0M223.1 163.5h0M223.6 169.1h0M223.7 167.4h0M231 112.3h0M230 103.2h0M231.2 108.1h0M229.8 106.1h0M230.1 110.3h0M231.1 105.8h0M231.2 109h0M229.9 110.3h0M231.1 109.3h0M231.3 119.4h0M230.7 120.6h0M231.1 122.8h0M230.8 115.4h0M231 123h0M229.7 122.1h0M230.3 114.8h0M229.9 118.9h0M231.1 113.7h0M229.9 117.4h0M229.5 123.1h0M231.6 120.9h0M230.6 121h0M231 115.4h0M231.7 114.8h0M230.4 118.4h0M231.7 118.3h0M231.2 114h0M229.7 127.2h0M231.3 130.8h0M229.8 139.8h0M231.9 138.3h0M230.3 125.3h0M231.7 133.8h0M231.9 146.9h0M232.2 135h0M230.8 143.7h0M228.9 146.5h0M231.6 133.4h0M232.5 142.2h0M231.2 146.9h0M230.3 134.9h0M229.7 147.8h0M228.7 129.4h0M232 127.1h0M230.1 131.7h0M229.6 147.9h0M230 146.4h0M232.4 147h0M232.2 138.7h0M229.7 131.8h0M231.6 144.4h0M230.5 148.1h0M228.8 146.6h0M229.5 148h0M232.3 142.7h0M230.9 146.7h0M230.3 143.6h0M229.3 140.2h0M231.8 128.4h0M231.9 138.8h0M229.3 125h0M230.7 142.9h0M231.4 128.2h0M229.6 137.5h0M231.2 130.8h0M230 149.2h0M231.2 130.2h0M231.1 168h0M231.4 161.3h0M231.5 157.7h0M231.8 174.5h0M229.9 163.2h0M229.5 166.6h0M230.1 168.9h0M229.5 171.9h0M230.5 174.1h0M230.8 158.2h0M231.5 176.2h0M230.6 161.2h0M230.8 153.1h0M229.6 154.2h0M229.5 161.4h0M230.7 159.3h0M230.2 171h0M230.1 167.2h0M230.2 158.1h0M229.6 160.4h0M231.6 164.3h0M230.9 160.8h0M230.8 164.2h0M229.4 150.4h0M231.6 158h0M230.8 150.8h0M236.4 112.1h0M237.5 112.7h0M237.1 111.9h0M237.4 116h0M237.8 114.4h0M236.7 114.6h0M238 120.1h0M236.8 119.7h0M237.4 126.2h0M236.5 121.4h0M237 117.6h0M237.8 125.1h0M236.9 118.3h0M238.1 119.6h0M237.2 122.1h0M237.4 126.2h0M237.8 117.7h0M237.4 118h0M238 124.1h0M237.5 127.5h0M236.3 122.1h0M238 121.2h0M237.8 122.1h0M236.5 121.6h0M238.8 138.8h0M237.5 145.3h0M239.2 133.8h0M236.6 135.7h0M236.2 133.4h0M236.7 129.4h0M238.7 137.1h0M237.3 142h0M236 145.5h0M239.1 139.6h0M235.9 128.6h0M235.9 130.9h0M237.7 138.1h0M236.7 146.4h0M236 145.4h0M237.8 131h0M237.7 144.3h0M237.2 135h0M236.5 145h0M237.7 145.8h0M235.9 132.6h0M237.7 140.2h0M236.2 138.8h0M238 137h0M235.5 136.1h0M236 140.2h0M236.6 144.8h0M238.2 139.2h0M236.3 164.2h0M238.4 163.8h0M236.1 161h0M237.5 174.9h0M238.3 157.7h0M237.7 153.9h0M236.5 155.9h0M237.4 153.8h0M236.8 170.1h0M237.3 175.8h0M237.5 162h0M237.8 164.3h0M238.1 176h0M237.9 148.5h0M237.8 153.1h0M236.4 148.1h0M236.4 157.9h0M237.4 167.4h0M238.3 166.8h0M237.3 149.1h0M236.7 150.6h0M237.8 160.1h0M237.2 169.7h0M236.9 170.9h0M237.1 157.1h0M237.8 174.9h0M236.9 161.8h0M236.7 159.9h0M236 162.4h0M236.5 175.7h0M238.1 155.4h0M243 142.9h0M242.9 122.5h0M243.4 123.6h0M245 168.6h0M243.2 154.2h0M243 133.2h0M244.6 134.9h0M244.5 133.7h0M242.4 143.2h0M243.6 139.6h0M243 156.3h0M242.9 130.9h0M242.4 161.4h0M243.9 164.9h0M243.4 155.3h0M244.2 158h0M244.6 155.6h0M243.8 175.3h0M243 111.9h0M243.8 121.7h0M244.2 124.7h0M244.3 163.3h0M243.8 127.6h0M244.2 174.3h0M242.4 137.7h0M244.2 165.9h0M244.6 143.1h0M242.8 172h0M244.1 139.4h0M243.7 112.7h0M243.1 167.3h0M244.3 150.1h0M244.7 164h0M244.4 155.3h0M243 116.9h0M244 169.5h0M243.4 128h0M243.4 140.3h0M243.8 116.5h0M242.5 135.8h0M242.8 165.2h0M245.1 117.2h0M243 165.2h0M244.8 169.6h0M244.5 124.8h0M244.6 118.3h0M243 135.3h0M243.5 172.1h0M243.4 151.8h0M244.7 169.1h0M243.9 170.7h0M243.6 166h0M244 177h0M243.9 120.8h0M243.1 158.5h0M244.3 162.5h0M244 159.8h0M244 142.6h0M243.9 142h0M243 140.6h0M243.9 134h0M243.9 125.7h0M249 133.7h0M250.2 119.7h0M250.7 157.2h0M250 177.1h0M249.2 155.4h0M249 134.1h0M251 175.7h0M251.4 164.4h0M251.6 166.8h0M249.3 169.2h0M250 142.2h0M251.1 153.3h0M250.1 160.6h0M251.5 162.9h0M249.3 122.2h0M249.4 137.6h0M251.2 170.6h0M249.1 130.2h0M249.4 146.1h0M251.6 157.8h0M250.5 148.1h0M249.2 158.2h0M249.3 180.3h0M250.5 139h0M248.9 149.7h0M250.8 137.2h0M249 138.6h0M249.1 164.7h0M249.4 130.6h0M250.5 182.4h0M250.9 148.2h0M251.5 157.1h0M249.7 131.1h0M249.6 150.9h0M249.9 160.4h0M250.3 120.6h0M251 126.2h0M250.9 164.9h0M250.2 130.4h0M250.9 130h0M251.2 118.4h0M251.2 181.7h0M250.6 163h0M250.5 147.3h0M249.9 150.4h0M249.2 152.3h0M258 141.6h0M257.9 160.2h0M257.5 166h0M257.1 153.2h0M255.8 124.6h0M256.7 124.2h0M256 125.2h0M257.9 130.1h0M256.2 140.5h0M257.1 171.3h0M256.3 142.1h0M256 175.6h0M256.6 125.9h0M257.3 164.6h0M256.7 128.7h0M257.4 156.7h0M256.7 164.4h0M256.8 167.6h0M256 129.8h0M257.3 131h0M256.2 124h0M257.7 182.1h0M255.8 152.4h0M256.1 145h0M256.9 138.5h0M255.9 174.5h0M255.9 160.2h0M256.9 132.1h0M256.3 170.4h0M257.9 160.7h0M256.5 157.2h0M257.5 141.6h0M257.2 163.2h0M257.2 162.4h0M258 153.1h0M255.7 129h0M257.9 153h0M257.9 149.6h0" stroke="#0000f0" stroke-width="3.05" stroke-linecap="round" fill="none"/>
<path d="M460.2 67h0M459.5 70h0M460.8 74h0M460 77h0M460.1 85.6h0M459.8 88h0M460.4 89.3h0M459.8 90.5h0M459.7 96.5h0M468.6 57.5h0M468.8 61.5h0M468.1 77h0M468.7 80h0M468.4 84h0M469.4 87h0M468 97.2h0M469.4 106h0M468.5 108h0M468.7 110h0M485.8 116h0M484.8 119.6h0M493.3 119.5h0M493.8 124h0M493.7 132.5h0M494.3 139.4h0M502.3 118.8h0M502.6 121h0M501.5 125h0M501.3 132.5h0M502.8 144.9h0M510.7 131h0M510.2 133.8h0M510.3 139h0M510.3 142.3h0M510.4 147.5h0M535.6 42.8h0M552.7 38.5h0M551.7 44.9h0M561.2 45.5h0M568.7 46.9h0M577.3 42.9h0M602.1 42.9h0M628 40h0M626.8 44.5h0M643.6 49.6h0M651.8 50.2h0M652.1 142h0M660.3 53.7h0M669.2 139h0M669.3 148h0M679 109.3h0M677.4 95.1h0M677.4 121.8h0M677.8 102h0M676.3 100.6h0M678 103.9h0M678.7 118.7h0M677.9 104.4h0M676.8 109.7h0M678.2 66.1h0M677.4 88.6h0M676.7 74.2h0M677.4 98.6h0M677.8 122.3h0M677.2 83.4h0M678.6 66.2h0M678.4 65.1h0M676.6 68.9h0M677 80.2h0M677.4 72.5h0M676.3 68.7h0M677.1 70.5h0M678.1 69.3h0M678.7 97.7h0M678.1 67.2h0M677.1 148h0M686.8 52.1h0M685.5 58h0M685.6 65.5h0M686.7 75h0M686.6 85h0M686.5 87.5h0M685.2 90h0M685.3 89.3h0M685.3 102.4h0M686.1 107.7h0M686.7 112h0M685.5 135h0M685.7 146h0M694.4 78.2h0M694.5 84h0M695.1 88h0M694 91h0M694.1 90.6h0M694.7 102.4h0M694.2 108.3h0M694.1 118.2h0M694.5 122h0M693.9 146h0M702.5 92.9h0M703.5 93.9h0M702.1 114.7h0M702.3 115.5h0M711.3 111.7h0M710.8 118.6h0M711.1 121.5h0M711.4 142h0M710.5 149h0M727.3 138.2h0M510.2 144.4h0M509.5 146.5h0M511.5 146h0M512.1 154.2h0M510 153h0M520.8 145.3h0M519.6 154.9h0M517.2 154.3h0M520.6 153.5h0M519.4 150.5h0M527.5 146.1h0M527.8 142.6h0M527.2 144.1h0M528.5 153.8h0M525.3 152.8h0M535.8 150.1h0M535.7 142.1h0M536.6 145.1h0M535.7 152.5h0M535.3 151.2h0M544.2 144.3h0M542.6 142.3h0M544.9 155.3h0M545.4 152.6h0M543.1 154.2h0M554.2 155.8h0M553.6 142.9h0M554.2 141.5h0M551.3 152.8h0M550.3 151.6h0M561.8 151.5h0M560.2 150.6h0M560.6 150.8h0M560.2 152.1h0M561.3 151.9h0M568.4 150.4h0M569 149.1h0M567.2 150.2h0M568.1 153.8h0M570.7 152.8h0M575.9 151.5h0M578 145.3h0M579 151.3h0M575.4 154.2h0M576.8 151.6h0M584.3 150.6h0M587.4 145.9h0M585.4 145h0M586.1 154.1h0M584 152.8h0M592.3 155.9h0M595.8 142.5h0M592.9 150h0M595.5 151h0M593.9 152.9h0M602.6 149.5h0M601.9 152.1h0M604.1 141.2h0M601.1 151.1h0M601.9 152.5h0M612 145.1h0M611.4 153.4h0M609 148h0M609.9 150.7h0M608.9 154h0M617.4 150.2h0M619.5 142.4h0M620.8 150.9h0M617.9 152.5h0M620.7 152.5h0M626.8 149.2h0M628.9 144.1h0M628.9 154.6h0M629.1 151.5h0M628.2 152h0M637.4 144.2h0M637.8 146.7h0M635 148.1h0M633.9 151.4h0M636 151.5h0M643.8 143.4h0M644 146.9h0M645.2 146.3h0M643.9 151.3h0M645.3 153.8h0M474.7 141h0M478.3 150.4h0M482.5 147.8h0M486.5 147.8h0M486.7 153.4h0M493 132.5h0M492.4 139.4h0M500.9 132.5h0M500.9 144.9h0M495 159.3h0M500.9 156.7h0M525.8 151.5h0M525.8 154.7h0M533.6 158h0M536.9 154.3h0M542.2 158h0M544.1 157.4h0M494 158.7h0M501 156.8h0M486.3 153.5h0M495.1 159.2h0M470 167.2h0M495.1 170.2h0M491.2 180.9h0M517.6 167.2h0M517.6 171.9h0M525.4 154.9h0M532.3 160.8h0M535.2 157.8h0M537.2 154.3h0M542.1 159.8h0M544 157.4h0M544 192.1h0M558.7 153.9h0M558.7 158.8h0M558.7 161.7h0M559.3 175.8h0M565.6 171.5h0M568.5 169.6h0M570.5 169.6h0M567.9 175.5h0M569.5 192.7h0M575.4 159.4h0M577.3 164.7h0M575.4 168.6h0M582.2 168.6h0M585.2 169.6h0M576.3 201.5h0M577.7 201.5h0M585.2 156.9h0M587.1 157.8h0M591 156.9h0M595 156.9h0M593 170.2h0M595 169.6h0M585.2 185.2h0M586.7 187.2h0M592.6 189.2h0M593 192.1h0M594.6 188.9h0M586.1 195h0M601.8 174.5h0M482.4 209.7h0M495.1 207.2h0M499.4 209.3h0M586.1 212.3h0M569.5 215.8h0M601.8 213.2h0M569.1 224.2h0M590.6 222.2h0M561.3 231.4h0M602.9 157.8h0M606.8 155.9h0M611.3 158.8h0M619.5 157.8h0M627.4 153.5h0M634.2 158.2h0M635.6 158.8h0M642.1 160.8h0M653.2 162.1h0M668.1 157.8h0M669.5 161.7h0M677.9 157.4h0M702.8 155.5h0M736 150.6h0M736 163.1h0M609.7 164.1h0M619.5 165.7h0M627.4 165.3h0M610.7 169.2h0M602.3 174.5h0M609.4 174.5h0M611.3 173.5h0M610.7 177.8h0M609.7 178.4h0M625 172.5h0M653.2 175.5h0M602.3 183.3h0M626.4 182.7h0M686.1 183.3h0M602.3 192.7h0M608.8 190.1h0M619.1 189.6h0M628.4 191.7h0M636.2 186.8h0M636.8 190.1h0M653.2 191.1h0M611.3 202.9h0M611.7 204.4h0M619.1 201.5h0M628.4 200.9h0M634.2 206.4h0M617.6 208.4h0M609.4 211.7h0M602.3 213h0M618.6 213.6h0M618 207.9h0M611.3 205.4h0M628.4 219.1h0M609.4 223.6h0M610.7 225h0M618 227.5h0M623.8 228.1h0M711.2 142.7h0M711.2 149.4h0M585.6 245.5h0M608.8 236.8h0M584.5 260.3h0M602.1 249h0M610.8 245.1h0M619.5 238.4h0M618 243.1h0M559.7 26.5h0M574.1 29.4h0M576.4 39h0M603.3 36.6h0" stroke="#10109c" stroke-width="2.8" stroke-linecap="round" fill="none"/>
<path d="M477.5 60.1h0M476.7 60.7h0M476.7 58.3h0M478 71.5h0M476 68.4h0M477.8 71.2h0M476.4 68.8h0M476.8 59.4h0M477.2 70.4h0M476.2 82.3h0M477.6 79.3h0M477.9 83.5h0M478.1 75.3h0M477.9 75h0M476.1 79.8h0M477.1 80.2h0M475.6 85.4h0M478.5 74.3h0M476 83.7h0M477.1 75.2h0M476.5 74.2h0M477.7 72.7h0M478.5 73.1h0M477.9 84.9h0M476.6 82.8h0M477.8 81.5h0M475.7 78.7h0M476.1 92.3h0M476.6 92.1h0M475.5 95.5h0M478 93.7h0M474.9 91.6h0M479.4 87.6h0M475.3 88.3h0M477.2 88.9h0M474.5 91.2h0M477 86h0M477.6 87.8h0M475 94h0M476.5 91.1h0M478.5 107.1h0M476.2 101.8h0M475.5 108.3h0M476.7 100.6h0M477.6 98.5h0M476.2 103.3h0M477.6 101.8h0M475.6 100.5h0M476 102.4h0M484.8 64.7h0M486.2 57.9h0M485 60.6h0M485.8 63.5h0M486 65.4h0M485.2 59.6h0M485.4 61.1h0M485.6 64h0M485.1 57h0M484 79.9h0M485.9 80.4h0M485.2 75.6h0M486.1 73.7h0M484.7 76.7h0M484.9 70.4h0M485.9 82.9h0M486.7 78.8h0M485.7 70.4h0M485.1 72.6h0M484.9 72.5h0M486.1 82.6h0M484.1 81.8h0M486.2 74.2h0M484.4 70.6h0M486.3 71.1h0M485.2 73.3h0M484.2 70.2h0M486.9 90.2h0M484.5 88.1h0M483.3 84.5h0M483.9 85.8h0M484.7 90.8h0M484.3 95.7h0M483.3 94.3h0M485.6 90.3h0M484.9 91.9h0M486.8 90.3h0M485.5 85.8h0M486.8 91.1h0M484.9 86h0M486.2 84.3h0M484.6 94.4h0M486.2 93.8h0M485.3 96.3h0M484.8 96.7h0M484.2 108.8h0M484 105h0M486.8 97.8h0M484.3 97.5h0M484.8 111h0M484.1 99.5h0M484 104h0M484.5 99.5h0M493.2 63h0M494.7 69.9h0M494.5 68.7h0M494.6 62.4h0M493.1 63.9h0M494.4 65.4h0M493.1 53.2h0M494.3 66.3h0M493 62.5h0M493.2 57.5h0M493.2 69.7h0M494.3 75.2h0M493.9 79.3h0M494.8 79.1h0M492.6 82.8h0M495 70.4h0M493.3 82.7h0M494.3 75.6h0M492.6 75.9h0M493.2 73.5h0M492.8 77.9h0M495.1 80.2h0M494 75.4h0M494.6 78.9h0M493.8 78.8h0M492.3 80.1h0M494.9 83.2h0M492.8 79.7h0M492.3 78.8h0M492.3 94.3h0M492.5 98.6h0M495.2 86.4h0M494 90.5h0M494.1 84.4h0M495.2 104.5h0M491.8 92.5h0M492.8 99.8h0M492.3 91.4h0M494.7 94.2h0M494.5 94.4h0M495.3 102.9h0M496.2 98.8h0M493.9 97.1h0M496.1 101.1h0M495.9 102.3h0M493.3 88.1h0M494.9 102.3h0M492.5 105.6h0M493.3 92.2h0M491.7 94.2h0M494.5 94.1h0M492.4 103.2h0M495 100.1h0M491.3 88h0M494.7 88.2h0M493.2 107.7h0M494.4 92.1h0M491.4 92.2h0M494.3 90.4h0M493 95.9h0M491.9 94.2h0M493.1 104h0M494.1 101.9h0M494.7 115.4h0M493.6 110.8h0M494.6 110.1h0M495.3 111.4h0M502.9 63.5h0M501.3 59.1h0M501.2 57h0M502.5 65.3h0M502.7 66.1h0M501.2 56h0M501.1 64.5h0M502.3 59.4h0M502.3 64.4h0M503 69.2h0M501.5 74.3h0M501 70.3h0M502.5 76.1h0M500.9 73.3h0M502.6 79.6h0M501 77h0M501.4 72.8h0M503.4 81.9h0M503.4 70.7h0M503 82.8h0M503.5 73.3h0M501 81.3h0M501.7 70.5h0M500.7 78.1h0M502.6 83.4h0M502.1 77.2h0M502.8 71.5h0M500.7 80.4h0M501.4 105h0M501.3 108.3h0M500.5 89.5h0M499.9 92.6h0M502 88.2h0M502.4 98.4h0M499.7 87.4h0M504.1 87.8h0M503 87.5h0M502.6 98.4h0M500.9 108.4h0M502.2 102.3h0M501.6 93.6h0M500.1 89.3h0M502.8 108h0M503.6 88.4h0M502.9 88.8h0M503.6 99.3h0M504.4 94.7h0M501.8 102.7h0M500.9 87.1h0M502.2 87.4h0M503.3 105h0M501.7 100.6h0M503.6 91.2h0M502.9 101.5h0M503.6 98.5h0M500.9 99.3h0M501.1 93.7h0M504.1 91.6h0M502.7 102.5h0M502 95.7h0M502 86.7h0M501.3 99.3h0M503.7 114.1h0M500.7 117.3h0M503 117.6h0M503.1 116.5h0M500.9 111.7h0M510 68.8h0M510.1 67.8h0M509.5 67.9h0M509.9 64.9h0M509.5 65.3h0M509.7 65.4h0M509.6 62.8h0M509.8 62h0M510.4 74.6h0M510.9 79.2h0M511.5 77.3h0M509.4 75.8h0M510 79.6h0M510.1 83.1h0M510 70.2h0M510.4 83.4h0M510.1 81.5h0M509.2 78.5h0M509.3 72.8h0M509.9 75.6h0M510.9 77.8h0M509.8 73.4h0M509.3 70.3h0M511.7 75.3h0M510.2 72.6h0M510.7 70.2h0M509.6 101.7h0M509.3 100.4h0M508.9 101.1h0M512.7 113.9h0M509.8 122.1h0M511.8 84.5h0M510.7 103.4h0M512 111.5h0M510.1 105.8h0M508.1 89.5h0M508.7 90.9h0M510.8 123.5h0M509.5 85.2h0M512.2 101.3h0M510.7 101.4h0M509.6 95.1h0M511.9 87.3h0M511.6 104.5h0M508.4 108h0M509.5 95.3h0M509.7 116.9h0M512 124.6h0M510.6 113h0M509.6 113.1h0M512.3 88.3h0M512.8 103.3h0M510.8 114.7h0M511.4 101.9h0M509.7 94.2h0M512.1 97.4h0M508.4 123.9h0M509.7 85h0M510.1 112.7h0M512.8 115.9h0M511.3 112h0M510.9 90h0M508.9 110.4h0M511.4 85.1h0M511.2 125.7h0M512.3 92.4h0M509.7 97.3h0M512 118.2h0M512.4 123.1h0M509.1 84.1h0M509.1 108.5h0M511.7 119.7h0M512.7 115.8h0M512.8 113.7h0M508.6 103.6h0M512.7 105.7h0M509.6 109.8h0M508.6 88.1h0M511.5 89.1h0M510.1 97.8h0M509.6 125h0M519.1 59.2h0M518 63.6h0M519.8 67.7h0M518.5 60.7h0M518.8 65.8h0M519.3 63.7h0M518.1 78.5h0M519.8 74.8h0M519.9 80.4h0M519.3 79.2h0M518.4 68.4h0M518 77.9h0M519.1 68.9h0M520.3 78.8h0M518.7 78.2h0M519.4 68.4h0M518.9 80.5h0M517.6 75.9h0M519.1 72.5h0M518.3 79.2h0M519.1 79.6h0M517.9 75.8h0M517.7 77.7h0M520 73.9h0M521.1 129.7h0M520.9 92.7h0M517.1 107.8h0M521.1 131.3h0M518.1 135.5h0M521 94.4h0M521 121.2h0M521.3 122.1h0M520.5 122.2h0M518.5 132.8h0M518.4 132.6h0M519 134.9h0M516.3 117.2h0M517.7 100.7h0M517.9 82.7h0M516.8 96.1h0M520.7 96.1h0M519.8 93.9h0M516.3 136.6h0M517 121.1h0M517.8 92.2h0M520.7 132.5h0M520.3 87h0M518.1 86.7h0M520.8 137h0M519.2 88h0M519.7 105.1h0M519.1 129.2h0M520.8 133.3h0M516.6 91h0M518.9 92.9h0M520.6 120.2h0M519.6 122.2h0M519.6 115.1h0M519.7 104h0M520.6 128h0M519.7 121.5h0M517.9 86h0M517.8 107.1h0M518.2 92.9h0M517.6 127.8h0M516.3 133.5h0M519.9 105.2h0M516.3 123.5h0M516.6 88.3h0M516.8 113.1h0M517.7 103.8h0M518.2 87.6h0M519.2 106h0M516.6 101h0M519.8 100.1h0M518.9 82.2h0M520.7 83.1h0M519 92.8h0M519.1 87h0M520.9 125.6h0M520.8 125.4h0M520.4 82.4h0M520.7 84.7h0M519.9 136.8h0M520 115.3h0M520.7 86.8h0M517.5 86.8h0M519.8 96.9h0M518.2 103.6h0M520.1 109.6h0M520.6 128.2h0M516.5 97.6h0M516.9 87.2h0M516.7 123h0M516.3 123.6h0M517.5 119.8h0M519.7 139.6h0M517.5 139.6h0M518.4 137.1h0M527.1 65.1h0M527.1 58.6h0M526.6 64.2h0M528 57.2h0M527.1 60.2h0M526.7 59.1h0M528.1 78.1h0M527.9 69.6h0M526.9 78.9h0M526 79.7h0M528.2 77.7h0M526.5 69.5h0M526.1 69.8h0M527.8 77.4h0M527.6 77h0M525.9 69.7h0M528 69.6h0M527.3 66.3h0M526.5 70.5h0M527.5 70.7h0M526.2 68.4h0M527.9 77.9h0M526.4 71h0M528.5 74.2h0M526.9 117.8h0M526.5 110.5h0M527.3 114h0M528.1 81.3h0M527.1 121.8h0M526.2 87.7h0M528.9 89.2h0M526.1 115.3h0M525.3 94.5h0M529.6 101.1h0M529.4 116.3h0M529.4 83.6h0M528.8 123.8h0M529.1 86.2h0M528.4 126.9h0M526.4 104.7h0M527.7 122.2h0M525 95.5h0M528.2 80.8h0M525.3 94.2h0M527 94.7h0M527 120.7h0M528.9 86.2h0M527.4 112.4h0M526.7 123.1h0M524.9 98.6h0M527.8 113.4h0M524.7 125.5h0M526.9 99.8h0M524.9 99.9h0M524.8 119.1h0M526.2 110.7h0M528.9 100.4h0M527.2 89.8h0M527.7 92.8h0M528 106.1h0M527.9 84.6h0M525 111.8h0M529 126.5h0M528.6 118.1h0M529.3 104h0M528.4 87.4h0M525 126.9h0M529.6 111.1h0M527.5 86.8h0M526 123.1h0M528.3 90.1h0M529.4 118.1h0M524.9 111.3h0M526.1 119.4h0M528.3 107h0M527.4 127h0M527.2 86.9h0M528.5 106.6h0M527.4 89.2h0M529.7 82.4h0M527.4 81.1h0M526 88.4h0M525.9 99.3h0M526.2 92.5h0M529.5 104h0M525.5 90h0M528.5 128.5h0M528.2 137.4h0M527 129.8h0M527.3 136.1h0M526.2 136.8h0M527.5 138.8h0M527.5 135.3h0M525.6 133.3h0M535.5 55.8h0M535.7 54.9h0M535.9 56.1h0M535.9 58.5h0M534.8 56.9h0M536.2 61.3h0M534.6 56.3h0M536.3 77.2h0M536.4 75.7h0M536.9 70.8h0M536.3 76.3h0M536.8 78.2h0M534.2 72.9h0M535.5 73.3h0M535 65.2h0M535.9 76.5h0M536.3 78h0M536.2 67.6h0M536.6 65.7h0M537 69.1h0M536.3 65.7h0M536.6 66.4h0M535.6 76.4h0M534.7 72.9h0M534.5 70.1h0M533.7 100.2h0M535.5 113.2h0M534.8 98.2h0M537.8 130.4h0M534.8 131.9h0M533.8 83.4h0M534.8 125.5h0M537.9 86.9h0M535.8 91h0M533.7 101.3h0M537 99.1h0M537.4 108.3h0M533.5 79.9h0M536.3 102.3h0M534.4 101.2h0M537.3 123h0M533.7 114.1h0M536.1 119h0M536.7 118.7h0M535 109.4h0M537.7 124.2h0M534.5 130.4h0M534 90.4h0M537.9 115.8h0M535.3 91.9h0M535.1 108.4h0M534.9 108.6h0M538 110.7h0M537.9 120.3h0M533.8 101.7h0M534.2 89.9h0M534.1 120.6h0M537.7 109.3h0M534.2 101.7h0M538 126.9h0M537.2 82.7h0M534.5 131.6h0M534 98.3h0M536.9 90.7h0M534.6 102.9h0M537.6 98.7h0M534.6 132.8h0M534.4 93.4h0M537.6 121.3h0M533.5 89.4h0M537.2 97h0M537.8 124.8h0M533.2 101.7h0M537.1 81.5h0M533.9 99.2h0M533.5 94.2h0M535.2 128.5h0M534 106.3h0M534.3 107.2h0M537.4 129.7h0M535.9 117.8h0M533.4 118.4h0M537.5 98.5h0M534.6 121.7h0M533.7 99.7h0M537.8 79h0M537.1 89h0M535.3 88.6h0M533.9 108.4h0M533.7 94.2h0M534.9 79.2h0M534.1 124.3h0M535 102.4h0M534.1 106.8h0M534.7 81.6h0M535.8 145.7h0M534.9 138.9h0M534.4 142.3h0M535.5 141h0M535.5 133.9h0M534 137.4h0M534.6 138.8h0M536.1 134.4h0M544.3 56.1h0M543.6 62.4h0M544.7 57.8h0M543.8 54.5h0M543.6 57.3h0M544.5 58.3h0M543.7 62.3h0M544.4 54.7h0M543.2 73.8h0M543.1 70.2h0M543 71.3h0M543.2 65h0M543.3 65.2h0M543.3 68.6h0M544.7 77h0M545.1 67.7h0M542.4 70.8h0M542.7 70.6h0M545.3 67.8h0M545.4 71.4h0M543.4 70.2h0M543.1 67.2h0M544.2 74.8h0M543.8 76.1h0M545.1 76.2h0M544.4 65h0M543.2 82.3h0M544.6 85.4h0M541.8 85.2h0M544.8 120.7h0M546 127.1h0M545.6 119.3h0M543.7 94.7h0M543.4 109.6h0M543.8 104.8h0M541.5 108h0M545.3 86.6h0M542.4 128.2h0M542.5 84.5h0M543.6 129h0M543.9 134.8h0M545.3 84.7h0M544.9 84.9h0M545.1 135.8h0M543.5 125.2h0M542.5 81.6h0M545.4 127.8h0M542.4 111.3h0M545.5 105.7h0M546 84.3h0M545 82.5h0M545.7 79.1h0M544.2 96.3h0M544.8 80.5h0M542.9 135.8h0M542.1 126.6h0M544.8 80.1h0M545 93.7h0M542 81.8h0M544 96.3h0M542 91.9h0M543.2 84.5h0M544.1 81.6h0M544 79.7h0M541.6 96.4h0M544.3 79.3h0M542.3 119.3h0M541.8 111.1h0M545.5 105h0M543.7 89h0M542.7 130.4h0M541.7 123.4h0M545.3 93.9h0M542.8 128.3h0M543 101.8h0M543 89.2h0M544.3 126.7h0M544.3 126.9h0M544.2 117.3h0M543.9 90.3h0M542.5 98h0M546 96.3h0M546.3 133.8h0M542.8 109.6h0M542.9 99.2h0M545.8 133.8h0M544 123.7h0M545.1 106.1h0M545 129.6h0M544.4 132.9h0M544.4 126.7h0M545.5 109.9h0M545.7 103.9h0M546.3 92.9h0M542.3 120.4h0M542.8 117.7h0M542 83.6h0M546.2 103.1h0M544.1 91.8h0M542.2 103.5h0M542.9 118.3h0M545 136.6h0M542.4 145.9h0M543.3 141.9h0M543.3 144.5h0M542.4 145.1h0M544.4 147.8h0M544.9 141.2h0M543.3 145.6h0M552.5 50.4h0M553 55.7h0M552.9 51.4h0M551.7 62.2h0M552.5 53h0M552.2 53.5h0M552 57.4h0M551.8 50.9h0M552.9 61.7h0M552.6 50.6h0M552.6 77h0M552.5 78.2h0M552 71.3h0M552.7 72.9h0M551.2 78.6h0M553.4 69.3h0M551.7 74.3h0M550.9 72.6h0M550.9 66.8h0M551.2 76.5h0M551.7 69.9h0M551 74.5h0M551.3 64.8h0M551.8 72.7h0M551.6 65.8h0M552.9 68.4h0M550.8 74.7h0M551.1 76.4h0M551.9 103.2h0M550.3 80.5h0M553.2 124.2h0M554.7 127.1h0M551.2 133.2h0M553.1 119h0M553.6 92.6h0M552.7 134.5h0M551.1 126.6h0M551.4 130.5h0M552.6 97.3h0M552.1 116.2h0M553.6 129.7h0M554.2 110.9h0M551.7 103.3h0M551.3 138.8h0M554.1 86.9h0M551.3 121h0M553.2 128.2h0M552.4 106.4h0M552.5 136.9h0M551.9 85.1h0M554.6 97.3h0M551.8 105.5h0M553.6 125.6h0M553.2 83.6h0M552.7 135.9h0M554.5 95.7h0M552.2 82.7h0M552.5 90.8h0M554.2 103.3h0M552.1 83.2h0M550.3 96.4h0M553 130.5h0M552.4 100.3h0M550 106.1h0M549.9 98.9h0M554 84.8h0M551.2 126.6h0M554.2 79.8h0M551 82.9h0M552.6 130.7h0M553.7 105.6h0M552.7 135h0M550.1 135.2h0M553.2 110.5h0M552.1 130.6h0M551.2 117.3h0M552.7 123.4h0M552.4 139.4h0M553.8 90.5h0M550.4 106.3h0M552.2 137.7h0M550.7 89h0M554.4 94.3h0M549.9 128.5h0M551.4 121.7h0M553.5 105.5h0M551.2 96.7h0M553.7 135.8h0M553.5 129.7h0M553.6 137.5h0M551.2 124.4h0M554.5 121.9h0M553.4 113.7h0M552.1 89.4h0M553.4 111.2h0M550.9 110.5h0M552.2 139.1h0M554 86h0M554.6 101.1h0M553.6 80.6h0M553.4 120.4h0M552.3 80.9h0M551.2 109.6h0M552.8 84.1h0M554.7 101.1h0M551.7 93.1h0M550.4 119.1h0M550.2 87.9h0M553.2 146.8h0M551.6 140.9h0M550.8 145.3h0M551.3 140.5h0M551.5 146.2h0M561 64.8h0M560 64.9h0M560.1 62.9h0M560.3 61.2h0M560 68h0M561.2 62h0M561.2 58.4h0M561 81.7h0M560.5 82h0M562.1 79.9h0M560.5 75.9h0M561.2 82.3h0M560.3 76.1h0M562 79h0M560.5 76.1h0M559.2 76.1h0M561.3 80.5h0M561.2 77.8h0M560.4 80.3h0M559.8 77h0M561.1 76.8h0M559.7 76.9h0M559.2 72.9h0M560.9 74.9h0M561.1 74h0M560.5 105.7h0M560.8 94.9h0M559.2 95.8h0M561.3 108.3h0M559.2 113.4h0M561.7 116.7h0M558.7 95.5h0M559.8 134.2h0M560.6 116.1h0M559.7 113.2h0M561.6 91.9h0M562.8 123.1h0M562.4 112.4h0M563.1 112.7h0M559.6 92.9h0M560.2 128.4h0M562.6 116.2h0M558.4 95.6h0M561.2 84h0M559.3 138.8h0M560.3 112.8h0M562.3 112.1h0M561.1 135.3h0M562.7 110.9h0M559.6 109.2h0M561.4 111.2h0M561.9 96.8h0M558.4 105h0M562.6 124.2h0M563.1 136.6h0M563 85.8h0M562.6 136.1h0M561.5 83.5h0M562.7 94.7h0M558.4 99.3h0M561.6 117.6h0M560.2 114.5h0M561.8 87h0M561 83.5h0M560.4 88.8h0M559.3 117.3h0M559.4 127.5h0M560.1 134.1h0M560.4 123.5h0M558.5 101.9h0M558.3 119.1h0M560.1 110.6h0M559.4 100.2h0M562.6 111.7h0M559.6 129.9h0M561.3 118.1h0M561.3 125.6h0M558.8 86.7h0M559.4 129.5h0M558.3 116.5h0M559.5 117.3h0M558.1 85.5h0M560.7 97.1h0M558.2 127.4h0M559.8 112.9h0M561.6 118.8h0M559.3 88h0M561.5 134.3h0M560.8 92.8h0M558.9 104.5h0M560.8 107h0M562.6 121.8h0M563.1 99.2h0M561.4 104.7h0M560.4 106.3h0M561.9 123.5h0M558.2 87h0M559.7 103.5h0M562.9 109.3h0M559.2 100.8h0M559.8 108.4h0M560.8 107.3h0M561.4 142.7h0M561.4 145.8h0M559.6 144.6h0M561.8 146.5h0M568.2 61.9h0M569.4 57.7h0M568.5 55.2h0M569.6 58.6h0M568.5 55.1h0M568 61.1h0M569.7 69h0M569.7 71.2h0M569.6 68.1h0M569.4 66.9h0M567.7 75.8h0M568.5 68.6h0M567.7 77.1h0M570.5 70.5h0M570.3 66h0M569.1 65.7h0M569.5 71h0M568.9 68.7h0M568 76.8h0M567.8 77.2h0M568.2 67.1h0M568.4 72.2h0M567.7 71.3h0M567.5 68.9h0M569.8 85.9h0M568.8 111.7h0M570.3 80.2h0M570 84.5h0M570.9 102.8h0M568.2 84.5h0M571.2 81.2h0M568.2 115.2h0M571 88.3h0M567.1 99.8h0M568.3 106.5h0M566.7 127.2h0M571 124.2h0M569.9 82.3h0M570.3 121.8h0M568.8 130.2h0M569.4 117.1h0M567.1 104.9h0M569.1 110.9h0M570.1 99.2h0M569 131.3h0M569 101.2h0M568 122.4h0M569.8 127.6h0M569.5 120.4h0M569.7 82.7h0M569.8 130.1h0M567.2 128.6h0M570.1 105.7h0M566.9 134.8h0M567.6 90.8h0M569.7 93.8h0M571.1 103h0M570 118.7h0M570.8 132.4h0M568.6 80.4h0M570.1 117.2h0M567.5 132.3h0M571 108.1h0M566.6 89.7h0M567.3 103.9h0M568.4 80.7h0M569.7 116.4h0M567.9 129.5h0M571 95.1h0M569.5 82h0M570.3 86.8h0M570.7 85.6h0M571.2 96h0M570.4 116.1h0M569.9 90.7h0M568.5 117.6h0M569.2 111.6h0M571.5 128.6h0M569 127.3h0M569.7 84.7h0M567.5 136.4h0M567.4 86.7h0M569 84h0M570.9 90.6h0M570.9 131.5h0M568.7 110.3h0M568.5 118.2h0M566.7 112.1h0M569.3 111.3h0M567.3 91.6h0M571 104.6h0M570 137.6h0M568.1 98.2h0M567.8 133.6h0M570.1 114.2h0M571.2 95.4h0M571.5 93.5h0M569.1 120.6h0M571 112.9h0M566.6 129.6h0M566.5 97.6h0M569.6 141.4h0M569.2 141.1h0M568 139.3h0M568.2 140.7h0M569.9 143.7h0M577 61h0M577.7 61h0M577.9 59h0M576.8 60.7h0M576.9 74.6h0M578.8 62.9h0M577.8 75.9h0M575.9 62.6h0M577.9 72.9h0M578.7 73.8h0M578.3 70.8h0M577.1 67.1h0M576.8 70.6h0M578.5 71.2h0M578.5 68.3h0M576.6 72.7h0M576.8 63h0M577.6 70.3h0M577.9 64.3h0M577 66.5h0M578 63.6h0M576.4 65.5h0M576.5 134.2h0M575.1 128.5h0M578.1 108.8h0M577.2 121.8h0M577.6 87.2h0M576.3 133.4h0M578.2 102.4h0M578.1 98.9h0M575.6 103.1h0M575.1 107.1h0M577 81.2h0M578.9 98.2h0M576.6 79.5h0M577.7 115.2h0M577.7 116.3h0M575.9 138.7h0M575.2 108.9h0M577.6 125.7h0M575.4 138.8h0M576.2 111h0M579.5 103.3h0M575.5 90.9h0M576.2 102.2h0M578.4 126.1h0M579.1 93.1h0M575.1 91.3h0M577.7 87.1h0M578.4 126.2h0M576.8 86.4h0M578 129.2h0M575.6 125.9h0M575.7 128.1h0M577.2 78h0M578 118h0M575.7 107.6h0M577.2 112.9h0M576.1 76.1h0M578.5 101h0M579.8 139.3h0M576.6 112.9h0M578.9 131.7h0M576.1 138.4h0M577.8 140.9h0M576 117.9h0M575.5 135.9h0M579.5 120.9h0M575.9 128.2h0M579.1 139.7h0M578.9 140.7h0M575.9 137.7h0M576 89.8h0M575.7 106.9h0M579 134.7h0M576.1 98.2h0M575.8 84.8h0M576.4 93.8h0M575.1 121.7h0M578.9 112.3h0M578 91.7h0M579.4 93.1h0M576.7 108.5h0M577.4 136h0M575.7 100.9h0M576.4 83.1h0M579.2 77.6h0M579.1 134.3h0M576.6 107.3h0M575.5 94.7h0M576.4 94.7h0M575.8 108.7h0M577.3 110.1h0M577.7 85.1h0M578.6 134.9h0M576 111.2h0M576 122.6h0M576.2 131.1h0M578.8 88.6h0M576.2 89.7h0M576.7 121.3h0M579.5 101.6h0M579.8 132.4h0M576.7 112.3h0M576.9 114.3h0M576.1 138.8h0M578.3 146h0M578.2 142.7h0M578.3 145.2h0M576.2 144.1h0M586.5 57.7h0M586 53.2h0M586.1 51.2h0M585.5 55.1h0M584.9 52.9h0M585.5 61.3h0M584.7 63.9h0M584.2 67.7h0M585.1 60.5h0M586.6 60.5h0M585.6 71.3h0M586.7 62.7h0M586.2 68.6h0M584.4 70.9h0M585 66.3h0M584.4 71.5h0M586.9 70.4h0M586.9 58.8h0M586.9 65.1h0M587.1 64.6h0M584.8 62.4h0M587.1 66.9h0M586.3 61.6h0M585 89.5h0M587.1 112.5h0M587.9 104.7h0M583.3 115.2h0M583.3 112.6h0M585.9 87.9h0M586.6 99h0M587.3 98.9h0M586.2 108.5h0M585.7 112.6h0M583.2 107.2h0M584.7 81.8h0M584.1 87.1h0M585.4 117.7h0M586.5 82.7h0M584.7 83.6h0M586.6 85.2h0M583.2 105.3h0M584.1 118.6h0M583.7 89.2h0M586 111.3h0M588.2 88.6h0M583.8 98.3h0M585.8 124.9h0M586.2 102.7h0M585.4 103.3h0M587.2 74.9h0M586.8 108.3h0M585.6 75.9h0M585.8 94.6h0M584.5 117.9h0M586.7 120.5h0M587.5 76.7h0M584.5 113.3h0M583.4 130.9h0M587.5 109.9h0M587.8 119.8h0M587.8 104.1h0M587.4 75.1h0M586.5 84.7h0M585.7 137.4h0M586.6 127.8h0M583.2 127.8h0M586.5 104.1h0M587.9 119.9h0M585.8 84h0M585.2 113h0M585.7 132.6h0M586.4 76.9h0M586.7 121.2h0M585.5 104.3h0M586.7 128.4h0M587.3 118.5h0M586.7 78.8h0M586.9 128.5h0M585.2 134.3h0M587.1 121.9h0M585.8 121.3h0M587.9 103.8h0M584.8 86.5h0M587.5 83.1h0M585 127.2h0M587.2 98.4h0M585.3 114.2h0M585.9 134.8h0M585 78.2h0M583.9 95.3h0M586 113.3h0M587.8 118.4h0M584.6 86h0M586.9 114.1h0M583.4 117.5h0M584.4 124.1h0M588.1 76.8h0M588 79.5h0M584.2 86h0M586.9 132.3h0M583.4 135.3h0M585.4 117h0M585.3 90.3h0M585.5 124.9h0M587.9 133.5h0M583.8 111.9h0M585.9 80.7h0M588.2 126.6h0M583.2 119.4h0M586 146.2h0M586.3 139.1h0M585 146.4h0M586.1 143.2h0M585.2 143.4h0M587 142.9h0M593.4 51.8h0M594.5 51.8h0M594.8 49.9h0M593.5 51.5h0M592.8 56.6h0M595 65.4h0M595.5 59.3h0M592.6 56.6h0M594.8 65.1h0M593.5 56h0M594.2 54.6h0M594.5 60.9h0M595.1 65.3h0M593.8 58.3h0M594.3 55.6h0M594.6 58.9h0M593.6 57.8h0M593 62.6h0M594.2 56.8h0M592.9 62.8h0M593.9 59.2h0M592.8 59.2h0M595.1 113.1h0M594.2 83.9h0M595.3 122.5h0M593.1 68.1h0M595.9 82.2h0M595.3 114h0M595.3 68.4h0M592.5 76.9h0M594.6 98.4h0M595.9 84.4h0M596.4 116.1h0M593.9 77.1h0M593.5 91.9h0M596.1 74.1h0M591.8 75.8h0M595.5 68.6h0M593.2 125.3h0M592.9 80.2h0M594.6 96.2h0M595.3 85.2h0M596.2 116.4h0M595.3 130h0M595.5 130.1h0M591.6 93.2h0M596.3 81.8h0M595.7 111.5h0M595.5 71.3h0M593 86.1h0M595.8 96.5h0M596.6 114.6h0M593.7 67.9h0M593.8 108.7h0M596.1 93.4h0M592.3 101.3h0M593.5 93.3h0M592 86.5h0M595.1 123.2h0M595 132.2h0M596.2 100.7h0M596 108.4h0M594 126.6h0M593.3 81.6h0M593.6 126.2h0M592.6 93.7h0M591.5 118.8h0M592.3 125.2h0M592.9 81.7h0M594.5 95.9h0M594 117.3h0M591.7 112.4h0M594.5 108.5h0M596.5 72.5h0M594 107.2h0M594.2 81.5h0M595.1 124h0M593.1 73.2h0M592.1 128.7h0M595.9 109.2h0M594.7 112.8h0M593 70h0M592.8 83.3h0M593.2 111.6h0M591.8 68.6h0M593.7 94.9h0M593.1 104.5h0M596.3 120.7h0M596.3 127.2h0M593.8 92.6h0M592.4 125.7h0M595.7 127.3h0M591.5 87.9h0M592.5 102.7h0M593.5 80h0M595.3 94.5h0M595.6 113.8h0M593.6 119.2h0M593.4 90.7h0M594 102.4h0M596.2 105.3h0M594.4 91.3h0M594.4 80.2h0M595 106.2h0M592.2 97.4h0M592.9 90.8h0M596.2 80h0M596.3 114.2h0M593.3 146.3h0M594 137.9h0M593.8 139.3h0M595.4 135.1h0M594.3 145.2h0M594.4 138.9h0M593.7 141h0M593.3 143.5h0M595.1 138.7h0M593.1 143.3h0M594.1 138.3h0M594.8 136.1h0M602.1 55.8h0M601.8 55.1h0M602.6 59.5h0M603.4 64.4h0M603.1 68h0M601.6 64.9h0M603.6 63h0M603.2 67.8h0M603.4 69.2h0M603.6 60.4h0M602.7 70.4h0M603.4 64.9h0M603.6 68.1h0M603.5 63.4h0M602.3 63h0M602.7 63.7h0M601.6 57.2h0M601 68.7h0M603.7 69.2h0M603.6 63.3h0M601.8 124.3h0M600.9 116.7h0M600.8 94.2h0M604.9 89h0M601.5 108.5h0M604.2 76.5h0M604.9 126h0M603.9 73.7h0M600.9 88.8h0M601.4 99.9h0M600.6 125.9h0M600.7 92.4h0M602.4 113.3h0M604.5 99.6h0M602.5 105.7h0M602.9 121.8h0M603.2 124.1h0M602.6 113.7h0M602.8 77.5h0M603.7 122.7h0M601.2 127.5h0M600.7 121.7h0M600.1 71.6h0M601 83.1h0M602.5 117.2h0M601.7 122.5h0M601.3 79.7h0M603.8 82.2h0M602.7 126.4h0M602.7 103.5h0M604.1 112.1h0M602.1 119.6h0M602.2 100.5h0M600.2 80.5h0M602.1 119.5h0M600.1 81h0M602.1 72.2h0M604.5 104.6h0M601.9 115.7h0M600 105.5h0M602.1 80.4h0M603.3 105.8h0M601.7 125.3h0M600.6 94.1h0M600.8 87.4h0M603 119.6h0M600.2 117.5h0M603.2 99h0M602.6 83.9h0M603.2 73.2h0M603.2 106.4h0M602.7 73.2h0M601 92.3h0M602.5 129.3h0M602.4 112.7h0M600.7 123.6h0M603.4 99.5h0M600.6 81h0M602.6 99.7h0M603.1 122.5h0M601.5 84.7h0M600.7 120.1h0M601.5 89.3h0M603.5 106.4h0M602.1 79.9h0M603.2 121.8h0M604.2 121.8h0M601.3 101.9h0M602.6 89.6h0M601.3 124.4h0M601.2 117.4h0M600.1 84.9h0M604 94.1h0M603 95.5h0M601.5 76h0M599.9 101.7h0M604 87.3h0M603.3 131.7h0M601.6 140.8h0M603 133h0M601.9 139.6h0M602.6 143.7h0M601.9 145.8h0M603.5 137.5h0M603.3 135.2h0M602.9 143.3h0M603.6 140.2h0M603.9 133h0M601.9 144.7h0M604 130h0M602.9 145.2h0M601.3 146.6h0M610.1 55.1h0M611.5 53.1h0M610.6 56.2h0M611.2 55.3h0M610.6 58h0M610.4 52.5h0M610.1 54.3h0M611.7 56.9h0M609.4 68.8h0M612.1 62.7h0M610.4 74.4h0M610.1 67.1h0M612 70.2h0M611.4 68.9h0M611.9 60.9h0M609.4 68.4h0M611.5 65.4h0M611.7 63.6h0M611.2 69.3h0M612 73.2h0M609.7 65.1h0M611.5 70.4h0M610.5 64.5h0M609.8 72.6h0M612.1 62.1h0M609.9 60.9h0M610.5 75.9h0M609.4 114.5h0M610.8 82h0M611.1 86.9h0M609.6 99.2h0M609.6 121.5h0M608.4 106.7h0M609.2 124.6h0M613.3 112.5h0M611.8 87.4h0M612.9 78.8h0M611.8 112.6h0M610.2 77.1h0M609.5 108.8h0M611.1 117.9h0M612.6 86.8h0M609.5 111.7h0M611.6 94.7h0M610.4 111.4h0M608.5 112.9h0M608.7 87.8h0M611.9 114.1h0M611.4 115.2h0M610.8 94h0M609 99.1h0M608.9 121.2h0M612 90.8h0M608.7 124.2h0M609.5 118.7h0M608.7 127.1h0M609.7 131.5h0M612.5 89.3h0M609.1 93.9h0M613 92.1h0M610.7 106.3h0M608.8 106.9h0M611.9 107.1h0M609.2 74.8h0M610.7 127.9h0M611.3 89.8h0M608.5 97.3h0M610 129.4h0M610.1 101.4h0M610.1 121.1h0M610.5 93.9h0M612.8 130.5h0M613 77.8h0M609 109h0M611.7 93.5h0M612.2 128.3h0M610.7 94.3h0M611.2 118.9h0M608.5 105.4h0M608.9 84.4h0M611.8 87.5h0M610.7 106.1h0M609.1 106.6h0M611.4 84.3h0M609.2 130.4h0M609.3 105.2h0M613.2 78.2h0M612.4 119.4h0M608.6 112.2h0M613.3 95.1h0M611.9 102.1h0M611.9 129.7h0M612.9 85.1h0M609.5 117h0M609.9 77.1h0M609.5 99.1h0M610.6 96.5h0M612.8 87h0M613.1 111.4h0M609.2 110.2h0M610.1 133.1h0M612 140.8h0M612.1 145.1h0M610.8 144.2h0M609.7 137.7h0M611.7 132.1h0M610 141.8h0M609.3 133.9h0M610 139.4h0M609.4 145.7h0M610.7 139.8h0M609.8 142.7h0M610 141.4h0M609.9 138.4h0M619.2 60h0M619.1 51.1h0M618.4 60.3h0M619.5 60.2h0M619.6 59.2h0M619 51.2h0M619.5 60.2h0M619.4 59.3h0M619.8 55.1h0M619.8 52.4h0M619.1 73.6h0M619.8 70.3h0M618.1 62.3h0M618.5 73.3h0M620 67.7h0M617.8 71.6h0M618.3 67.6h0M618.8 68.3h0M620 67.1h0M619.5 68.7h0M618.6 64.9h0M619.4 68.5h0M620 68h0M618.4 67.1h0M619.1 66.2h0M619.9 73.9h0M620.5 65.1h0M619.6 74.4h0M621 102.8h0M619.7 111.1h0M619.3 78.3h0M618.7 119.9h0M618.5 125h0M620.7 98h0M617.6 98.6h0M617.1 108.3h0M619.8 81.6h0M617.2 103.8h0M616.7 97.4h0M620.9 120.5h0M618.4 80.3h0M619.9 88.8h0M619.4 102.6h0M619.5 120.8h0M620.3 105.8h0M620.4 88.1h0M619.7 124.3h0M618.2 123.4h0M619.5 92.4h0M619.3 79h0M619.6 81.4h0M616.7 125.3h0M616.7 93.5h0M618.3 93.9h0M617.3 76.3h0M619.1 108.3h0M618.4 111.7h0M619.9 113.1h0M618.1 116.2h0M617 101.5h0M619.2 92.6h0M621.3 119h0M618 114.4h0M620.4 96.9h0M621.4 122.5h0M618.3 95.3h0M619.1 114.7h0M618.8 119.7h0M618.6 83.8h0M620.2 104.5h0M621.5 95.6h0M618.6 83.6h0M617.4 86.5h0M621.3 120.7h0M619.4 125.6h0M616.8 78.2h0M621.5 88.5h0M621.4 93.2h0M616.8 95.7h0M620.3 116.8h0M619.4 106.3h0M617.5 112.4h0M618.6 93.9h0M619.8 82.4h0M617.4 104.7h0M617 121.1h0M617.6 95.6h0M617.5 115.7h0M620.8 79.5h0M620.4 95h0M621 113.1h0M620.7 94.1h0M620.8 103.1h0M617.2 90.4h0M621.3 109.2h0M619.4 92h0M617.8 139.6h0M620.1 140.4h0M617.6 134.2h0M618.9 134.8h0M618.1 140h0M620.4 129h0M618.9 139.1h0M617.8 143.6h0M620.2 141.7h0M618.8 135.9h0M618 146.4h0M619.1 140.7h0M619.6 138h0M619.7 139.6h0M620 133h0M618.4 136.9h0M619.9 131.2h0M620.3 146.4h0M628.4 62.1h0M627.6 64.4h0M626.7 61.3h0M626.7 52.6h0M628.4 60h0M628.3 58.1h0M627.9 54.7h0M626.8 60.2h0M627.9 56.1h0M627.9 58.8h0M628.2 58.5h0M627.7 73h0M628.6 76.4h0M629 73.8h0M628.6 73.6h0M628.4 72.1h0M627.3 69.7h0M628.7 74.2h0M628.6 76.6h0M628.7 73.8h0M626.5 78.6h0M627 68.7h0M628.5 71.3h0M627.9 77.1h0M627.2 65.6h0M628.6 74.4h0M628.6 66.7h0M628.4 75.9h0M629 73.8h0M627.2 107.6h0M627.6 117.3h0M627.8 116.9h0M628.5 109.2h0M625.6 79.6h0M625.2 113.5h0M627.7 95.8h0M626.1 112.5h0M629.3 91.9h0M628.7 95.7h0M628.6 84.3h0M629.8 97.9h0M626.9 95.4h0M626 90.8h0M625.8 103.5h0M627.5 91.1h0M626 112.3h0M629.7 84.8h0M626.9 106.7h0M626.6 81.9h0M625.3 86.1h0M626.9 91.6h0M629.9 107.4h0M626.2 89.1h0M625.9 87.1h0M627.8 107h0M627.1 85.4h0M627.4 94.1h0M629.2 108.3h0M627.5 110.9h0M630 108.1h0M627.6 115.9h0M625.7 112h0M627.4 98h0M627.9 96.8h0M626.7 115.5h0M629.2 94.6h0M627.7 99h0M625 114.3h0M629 96h0M626.7 99.1h0M628.4 82.9h0M625.6 102.7h0M627.6 78.7h0M628.9 100.5h0M625.1 102.3h0M626.6 106.3h0M628.3 106.5h0M626.4 110.3h0M627.1 95.8h0M626.7 96.8h0M626.6 120.1h0M626.6 131.4h0M627 136.1h0M626.6 138.6h0M627.8 136.5h0M628.3 148.1h0M627.6 146.1h0M626 135.6h0M627.3 133.9h0M627.3 120.2h0M627.4 133.6h0M626.2 149.9h0M626.9 135h0M627.3 128.8h0M628.7 146.8h0M626.8 123.4h0M628.1 137.2h0M626.7 137.3h0M627.4 139.7h0M628.8 132.8h0M628.6 126.6h0M628.1 140h0M626.9 129.3h0M627.7 140.1h0M626.3 120.3h0M626 140.3h0M626.3 133.6h0M626.9 140h0M627.1 137.8h0M636.3 67h0M635 56.9h0M636.6 61.8h0M634.9 60.5h0M635.2 65.2h0M636.4 59.3h0M636.6 63h0M634.9 65.4h0M636.4 63.4h0M636.7 75.3h0M635.9 77.1h0M636.4 79.4h0M636.1 70.8h0M636.3 79.8h0M634.6 79.7h0M635.4 70.5h0M635 75.6h0M636.5 68.6h0M634.9 73.9h0M634.4 80.9h0M637.1 76.9h0M635.8 77.7h0M636.3 70.7h0M637.2 69.6h0M635.5 74.8h0M637.3 73.7h0M636.5 68.9h0M634.6 85.7h0M636.7 88.9h0M634.7 100.7h0M637.5 97.4h0M635.5 82.9h0M637.2 92.2h0M637.5 107.6h0M637.9 93.2h0M636 104.5h0M633.7 109.2h0M637.1 91.7h0M638.2 101.6h0M636.6 108.1h0M635.5 94.4h0M634.6 110.3h0M633.4 89h0M637.6 84h0M635.2 90.8h0M634.5 110.4h0M635.1 108.3h0M638.1 107.3h0M637.9 97.6h0M634.7 91.1h0M637.1 104.8h0M635.7 110h0M633.6 109.5h0M634.4 110.7h0M638 102.3h0M636.2 108h0M635.5 104.7h0M634.2 101.4h0M637.4 85.7h0M637.5 97.9h0M634.2 83.4h0M635.9 103.7h0M636.9 85.7h0M634.6 98h0M636.5 88.9h0M635.1 111.7h0M636.6 88.1h0M636.4 133.3h0M636.9 125.1h0M636.9 120.8h0M637.4 140.5h0M635 128.5h0M634.4 132.8h0M635.2 135.1h0M634.4 139.1h0M635.6 141h0M636.1 121.8h0M637 142.8h0M635.9 125.5h0M636.1 115.7h0M634.5 117.9h0M634.5 126.5h0M636 123.2h0M635.3 137.5h0M635.2 133h0M635.3 122.2h0M634.5 125.3h0M637.1 128.6h0M636.2 124.9h0M636 129.1h0M634.3 113.6h0M637.1 121h0M636.1 113h0M643.2 62.9h0M644.6 63h0M644.1 62.2h0M644.5 66.9h0M645 64.6h0M643.7 65.6h0M645.2 71.3h0M643.8 71.7h0M644.4 79.1h0M643.3 74h0M644 69.1h0M645 77.5h0M643.9 70h0M645.3 70.7h0M644.2 74.3h0M644.5 79.1h0M645 68.7h0M644.5 69.3h0M645.3 76.1h0M644.7 80.6h0M643.1 74.9h0M645.2 72.7h0M645.1 73.8h0M643.3 74.2h0M646.3 93h0M644.6 101.7h0M646.8 86.9h0M643.4 91h0M642.9 88.5h0M643.7 83.4h0M646.2 91.1h0M644.4 97.9h0M642.7 103.1h0M646.6 93.8h0M642.6 83h0M642.5 85.8h0M644.8 93h0M643.5 103.7h0M642.7 102.9h0M645 84.5h0M644.9 100.5h0M644.3 89.6h0M643.3 102.1h0M644.8 102.2h0M642.5 87.7h0M644.9 95.5h0M643 94.9h0M645.2 91.6h0M642 92.3h0M642.7 96.7h0M643.5 101.8h0M645.5 93.9h0M643.1 125.1h0M645.7 123.2h0M642.9 121.4h0M644.7 137h0M645.6 116h0M644.9 111.9h0M643.3 115.1h0M644.5 112h0M643.7 131.8h0M644.4 138.2h0M644.6 121.7h0M645 124.2h0M645.4 138h0M645.2 105.2h0M645 110.9h0M643.2 105.8h0M643.2 117.5h0M644.5 128.1h0M645.7 126.8h0M644.4 106.4h0M643.6 108.7h0M645.1 119.1h0M644.3 131h0M643.9 132.7h0M644.1 116.2h0M645 136.8h0M643.8 121.8h0M643.6 119.7h0M642.7 123.2h0M643.3 138.7h0M645.4 113.3h0M651.6 95h0M651.5 70.8h0M652.2 71.7h0M654.2 124.2h0M651.9 108.3h0M651.7 83.4h0M653.7 84.3h0M653.6 83h0M650.8 95.8h0M652.4 90.6h0M651.7 110.9h0M651.5 80.7h0M650.9 117.4h0M652.8 120.6h0M652.2 109.4h0M653.2 112.2h0M653.6 109h0M652.7 133h0M651.6 58.1h0M652.6 69.2h0M653.1 72.4h0M653.3 118.4h0M652.7 76.2h0M653.2 131.5h0M650.9 89.2h0M653.1 121.6h0M653.7 94.1h0M651.4 129.8h0M653 90.1h0M652.5 58.5h0M651.8 124h0M653.2 102.7h0M653.8 119h0M653.5 108.8h0M651.6 64h0M652.9 126h0M652.1 76.9h0M652.1 91.7h0M652.6 63h0M651 86.8h0M651.4 121.7h0M654.3 62.9h0M651.6 121.6h0M653.9 125.5h0M653.6 72.4h0M653.7 64.5h0M651.7 86h0M652.3 129.5h0M652.2 105.3h0M653.8 125.1h0M652.8 127.5h0M652.4 122.1h0M652.9 134.9h0M652.7 68.1h0M651.7 113.5h0M653.3 117.4h0M652.9 114.5h0M652.9 93.9h0M652.8 93.2h0M651.6 92.3h0M652.7 83.7h0M652.8 73.8h0M659.3 79.8h0M660.9 62.2h0M661.5 106.6h0M660.6 130.8h0M659.6 105.4h0M659.3 80.2h0M661.9 128.4h0M662.4 114.6h0M662.6 117.4h0M659.7 121.8h0M660.6 89.2h0M661.9 101.7h0M660.7 111h0M662.5 112.8h0M659.6 65.9h0M659.8 84.1h0M662.1 122.1h0M659.4 75.6h0M659.8 94.3h0M662.6 106.7h0M661.2 95.9h0M659.5 108.8h0M659.6 135.1h0M661.3 85.1h0M659.2 98.8h0M661.5 82.7h0M659.3 85.6h0M659.5 116.7h0M659.8 75.8h0M661.2 136.7h0M661.8 95.7h0M662.5 105.9h0M660.2 76.2h0M660.1 99.8h0M660.5 110.9h0M660.9 63.3h0M661.8 69.5h0M661.8 115.6h0M660.8 74.9h0M661.7 74.1h0M662 60h0M662.1 135.4h0M661.3 113.6h0M661.2 95h0M660.5 99h0M659.6 101.8h0M670.8 82.8h0M670.6 105.1h0M670.2 112.3h0M669.7 97.3h0M668 64.1h0M669.1 63h0M668.2 64.7h0M670.7 69.2h0M668.4 82.9h0M669.6 118.8h0M668.5 84.7h0M668.2 124.7h0M669 65.1h0M669.9 110.8h0M669.1 68.4h0M670 101.2h0M669.1 110.9h0M669.3 114.7h0M668.2 70.2h0M669.9 70.7h0M668.4 63.1h0M670.4 131.3h0M668 97.2h0M668.4 88.2h0M669.3 79.9h0M668.1 123.6h0M668.1 106.5h0M669.4 72.3h0M668.6 118.3h0M670.6 105.7h0M668.9 102.5h0M670.1 83.2h0M669.8 109.1h0M669.7 108.2h0M670.8 96.5h0M667.9 69.5h0M670.6 96.5h0M670.6 92.4h0" stroke="#0000f0" stroke-width="2.8" stroke-linecap="round" fill="none"/>
<path d="M104.9 42.5L107.3 43.9L107.3 54L104.9 52.6ZM104.1 52.9L108.1 55.3L108.1 62.9L104.1 60.5ZM111.4 44.7L113.9 46.2L113.9 56.2L111.4 54.8ZM110.6 55.1L114.7 57.5L114.7 66.8L110.6 64.4ZM118 48.6L120.4 50L120.4 60.1L118 58.7ZM117.2 59L121.2 61.4L121.2 82.4L117.2 80ZM124.5 52.5L127 53.9L127 64L124.5 62.6ZM123.7 62.9L127.8 65.3L127.8 86.3L123.7 83.9ZM131.1 56.4L133.5 57.8L133.5 67.9L131.1 66.4ZM130.3 66.8L134.4 69.2L134.4 103.6L130.3 101.2ZM137.7 58.6L140.1 60L140.1 70.1L137.7 68.7ZM136.8 69L140.9 71.4L140.9 116.7L136.8 114.3ZM144.2 60.8L146.7 62.2L146.7 72.3L144.2 70.9ZM143.4 71.2L147.5 73.6L147.5 113.1L143.4 110.7ZM150.8 63.8L153.2 65.3L153.2 75.4L150.8 73.9ZM149.9 74.3L154 76.7L154 121.2L149.9 118.7ZM157.3 66.9L159.8 68.3L159.8 78.4L157.3 77ZM156.5 77.3L160.6 79.7L160.6 127.6L156.5 125.2ZM163.9 71.4L166.3 72.8L166.3 82.9L163.9 81.4ZM163.1 81.8L167.1 84.2L167.1 134.8L163.1 132.4ZM170.4 78.9L172.9 80.3L172.9 90.4L170.4 88.9ZM169.6 89.3L173.7 91.7L173.7 140.4L169.6 138ZM177 79.1L179.4 80.6L179.4 90.7L177 89.2ZM176.2 89.6L180.2 92L180.2 140.9L176.2 138.5ZM183.5 80.8L186 82.2L186 92.3L183.5 90.8ZM182.7 91.2L186.8 93.6L186.8 147.3L182.7 144.9ZM190.1 81.3L192.5 82.7L192.5 92.8L190.1 91.4ZM189.3 91.7L193.3 94.1L193.3 148.7L189.3 146.3ZM196.6 81.4L199.1 82.9L199.1 92.9L196.6 91.5ZM195.8 91.8L199.9 94.3L199.9 149.2L195.8 146.8ZM203.2 88.1L205.6 89.5L205.6 99.6L203.2 98.1ZM202.4 98.5L206.5 100.9L206.5 149.8L202.4 147.3ZM209.7 95.2L212.2 96.7L212.2 106.8L209.7 105.3ZM208.9 105.7L213 108.1L213 155.3L208.9 152.9ZM216.3 100.2L218.7 101.7L218.7 111.7L216.3 110.3ZM215.5 110.6L219.6 113.1L219.6 155.9L215.5 153.4ZM222.9 106.4L225.3 107.8L225.3 117.9L222.9 116.4ZM222 116.8L226.1 119.2L226.1 151.4L222 148.9ZM229.4 112.4L231.9 113.9L231.9 124L229.4 122.5ZM228.6 122.9L232.7 125.3L232.7 150.2L228.6 147.8ZM236 117.4L238.4 118.9L238.4 128.9L236 127.5ZM235.1 127.8L239.2 130.3L239.2 147.4L235.1 145Z" fill="#0000f0"/>
<path d="M475.8 73L478.2 73L478.2 85L475.8 85ZM475 86L479 86L479 95L475 95ZM484.2 71L486.6 71L486.6 83L484.2 83ZM483.4 84L487.4 84L487.4 95L483.4 95ZM492.5 71L494.9 71L494.9 83L492.5 83ZM491.7 84L495.7 84L495.7 109L491.7 109ZM500.9 71L503.3 71L503.3 83L500.9 83ZM500.1 84L504.1 84L504.1 109L500.1 109ZM509.3 71L511.7 71L511.7 83L509.3 83ZM508.5 84L512.5 84L512.5 125L508.5 125ZM517.6 69L520 69L520 81L517.6 81ZM516.8 82L520.8 82L520.8 136L516.8 136ZM526 67L528.4 67L528.4 79L526 79ZM525.2 80L529.2 80L529.2 127L525.2 127ZM534.3 66L536.7 66L536.7 78L534.3 78ZM533.5 79L537.5 79L537.5 132L533.5 132ZM542.7 65L545.1 65L545.1 77L542.7 77ZM541.9 78L545.9 78L545.9 135L541.9 135ZM551.1 65.7L553.5 65.7L553.5 77.7L551.1 77.7ZM550.3 78.7L554.3 78.7L554.3 139L550.3 139ZM559.4 70L561.8 70L561.8 82L559.4 82ZM558.6 83L562.6 83L562.6 141L558.6 141ZM567.8 65.7L570.2 65.7L570.2 77.7L567.8 77.7ZM567 78.7L571 78.7L571 137L567 137ZM576.1 63L578.5 63L578.5 75L576.1 75ZM575.3 76L579.3 76L579.3 140L575.3 140ZM584.5 59L586.9 59L586.9 71L584.5 71ZM583.7 72L587.7 72L587.7 137L583.7 137ZM592.9 54.5L595.3 54.5L595.3 66.5L592.9 66.5ZM592.1 67.5L596.1 67.5L596.1 133L592.1 133ZM601.2 57.8L603.6 57.8L603.6 69.8L601.2 69.8ZM600.4 70.8L604.4 70.8L604.4 129L600.4 129ZM609.6 61.7L612 61.7L612 73.7L609.6 73.7ZM608.8 74.7L612.8 74.7L612.8 131L608.8 131ZM617.9 63L620.3 63L620.3 75L617.9 75ZM617.1 76L621.1 76L621.1 127L617.1 127ZM626.3 65.7L628.7 65.7L628.7 77.7L626.3 77.7ZM625.5 78.7L629.5 78.7L629.5 117L625.5 117ZM634.7 68.3L637.1 68.3L637.1 80.3L634.7 80.3ZM633.9 81.3L637.9 81.3L637.9 111L633.9 111ZM643 69.6L645.4 69.6L645.4 81.6L643 81.6ZM642.2 82.6L646.2 82.6L646.2 103L642.2 103Z" fill="#0000f0"/>
<line x1="82.5" y1="28.8" x2="308.5" y2="162" stroke="#000" stroke-width="3" stroke-linecap="round"/>
<line x1="464" y1="71.6" x2="718.6" y2="71.6" stroke="#000" stroke-width="2.8"/>
<line x1="464" y1="152.3" x2="718.6" y2="152.3" stroke="#e00000" stroke-width="2.8"/>
<g font-family="&quot;Liberation Sans&quot;, sans-serif" font-size="11.3" fill="#151515">
<path d="M40.1 6V290.9H351.6" stroke="#bdbdbd" stroke-width="1.8" fill="none"/>
<path d="M84.9 290.4v-3.2M129.3 290.4v-3.2M173.8 290.4v-3.2M218.2 290.4v-3.2M262.6 290.4v-3.2M307 290.4v-3.2M351.4 290.4v-3.2M40.6 15.1h3.2M40.6 107h3.2M40.6 198.9h3.2" stroke="#5a5a5a" stroke-width="1" fill="none"/>
<text x="40.5" y="307.2" text-anchor="middle">0.4</text>
<text x="84.9" y="307.2" text-anchor="middle">0.6</text>
<text x="129.3" y="307.2" text-anchor="middle">0.8</text>
<text x="173.8" y="307.2" text-anchor="middle">1</text>
<text x="218.2" y="307.2" text-anchor="middle">1.2</text>
<text x="262.6" y="307.2" text-anchor="middle">1.4</text>
<text x="307" y="307.2" text-anchor="middle">1.6</text>
<text x="351.4" y="307.2" text-anchor="middle">1.8</text>
<text x="36.1" y="19.6" text-anchor="end">5</text>
<text x="36.1" y="111.5" text-anchor="end">0</text>
<text x="36.1" y="203.4" text-anchor="end">-5</text>
<text x="36.1" y="295.3" text-anchor="end">-10</text>
<path d="M449.6 6V290.8H761.6" stroke="#bdbdbd" stroke-width="1.8" fill="none"/>
<path d="M506.7 290.3v-3.2M563.3 290.3v-3.2M620 290.3v-3.2M676.6 290.3v-3.2M733.3 290.3v-3.2M450.1 27.8h3.2M450.1 71.6h3.2M450.1 115.4h3.2M450.1 159.2h3.2M450.1 203h3.2M450.1 246.8h3.2" stroke="#5a5a5a" stroke-width="1" fill="none"/>
<text x="450" y="307.2" text-anchor="middle">0.6</text>
<text x="506.7" y="307.2" text-anchor="middle">0.8</text>
<text x="563.3" y="307.2" text-anchor="middle">1</text>
<text x="620" y="307.2" text-anchor="middle">1.2</text>
<text x="676.6" y="307.2" text-anchor="middle">1.4</text>
<text x="733.3" y="307.2" text-anchor="middle">1.6</text>
<text x="445.6" y="32.3" text-anchor="end">2</text>
<text x="445.6" y="76.1" text-anchor="end">0</text>
<text x="445.6" y="119.9" text-anchor="end">-2</text>
<text x="445.6" y="163.7" text-anchor="end">-4</text>
<text x="445.6" y="207.5" text-anchor="end">-6</text>
<text x="445.6" y="251.3" text-anchor="end">-8</text>
<text x="445.6" y="295.1" text-anchor="end">-10</text>
<text x="194.3" y="323.3" font-size="11.55" text-anchor="middle">Two-Way Travel Time (ns)</text>
<text x="604.8" y="323.4" font-size="11.55" text-anchor="middle">Two-Way Travel Time (ns)</text>
<text transform="translate(13.9 149) rotate(-90)" text-anchor="middle">Normalized amplitude (dB)</text>
<text transform="translate(423.2 149) rotate(-90)" text-anchor="middle">Normalized amplitude (dB)</text>
<text x="259" y="94.6">y = -7.17x + 8.52</text>
<text x="699.4" y="34.2">y = 0</text>
</g>
<line x1="300.7" y1="98.6" x2="300.7" y2="150" stroke="#262626" stroke-width="0.9"/><path d="M300.7 154L297.4 146.2L300.7 148.6L304 146.2Z" fill="#111"/>
<line x1="711.8" y1="36.2" x2="711.8" y2="63" stroke="#262626" stroke-width="0.9"/><path d="M711.8 67L708.5 59.2L711.8 61.6L715 59.2Z" fill="#111"/>
<text x="53.2" y="15.6" font-family="&quot;Liberation Sans&quot;, sans-serif" font-size="14" letter-spacing="0.8" fill="#151515">(a)</text>
<text x="464.1" y="17.3" font-family="&quot;Liberation Sans&quot;, sans-serif" font-size="14" letter-spacing="0.6" fill="#151515">(b)</text>
<rect x="46.5" y="252.5" width="222" height="33" fill="#fff" stroke="#6e6e6e" stroke-width="1"/>
<circle cx="60.7" cy="260.8" r="2.5" fill="#0000f0"/>
<line x1="48.6" y1="276.3" x2="72.8" y2="276.3" stroke="#000" stroke-width="2.8"/>
<g font-family="&quot;Liberation Sans&quot;, sans-serif" font-size="11.3" fill="#151515">
<text x="74.2" y="265.1">GPR data before the depth correction</text>
<text x="74.2" y="280.8">90th percentile linear regression</text>
</g>
<rect x="456.5" y="235.5" width="260" height="48.6" fill="#fff" stroke="#6e6e6e" stroke-width="1"/>
<circle cx="470.2" cy="244.3" r="2.5" fill="#0000f0"/>
<line x1="458.2" y1="259.7" x2="482.1" y2="259.7" stroke="#e00000" stroke-width="2.8"/>
<line x1="458.2" y1="275.6" x2="482.1" y2="275.6" stroke="#000" stroke-width="2.8"/>
<g font-family="&quot;Liberation Sans&quot;, sans-serif" font-size="11.3" fill="#151515">
<text x="484" y="249.1">GPR data after the depth correction</text>
<text x="484" y="264.6">Median - 3*MAD threshold line (y = -3.66 dB)</text>
<text x="484" y="279.7">90th percentile linear regression</text>
</g>
</svg>
</body></html>
